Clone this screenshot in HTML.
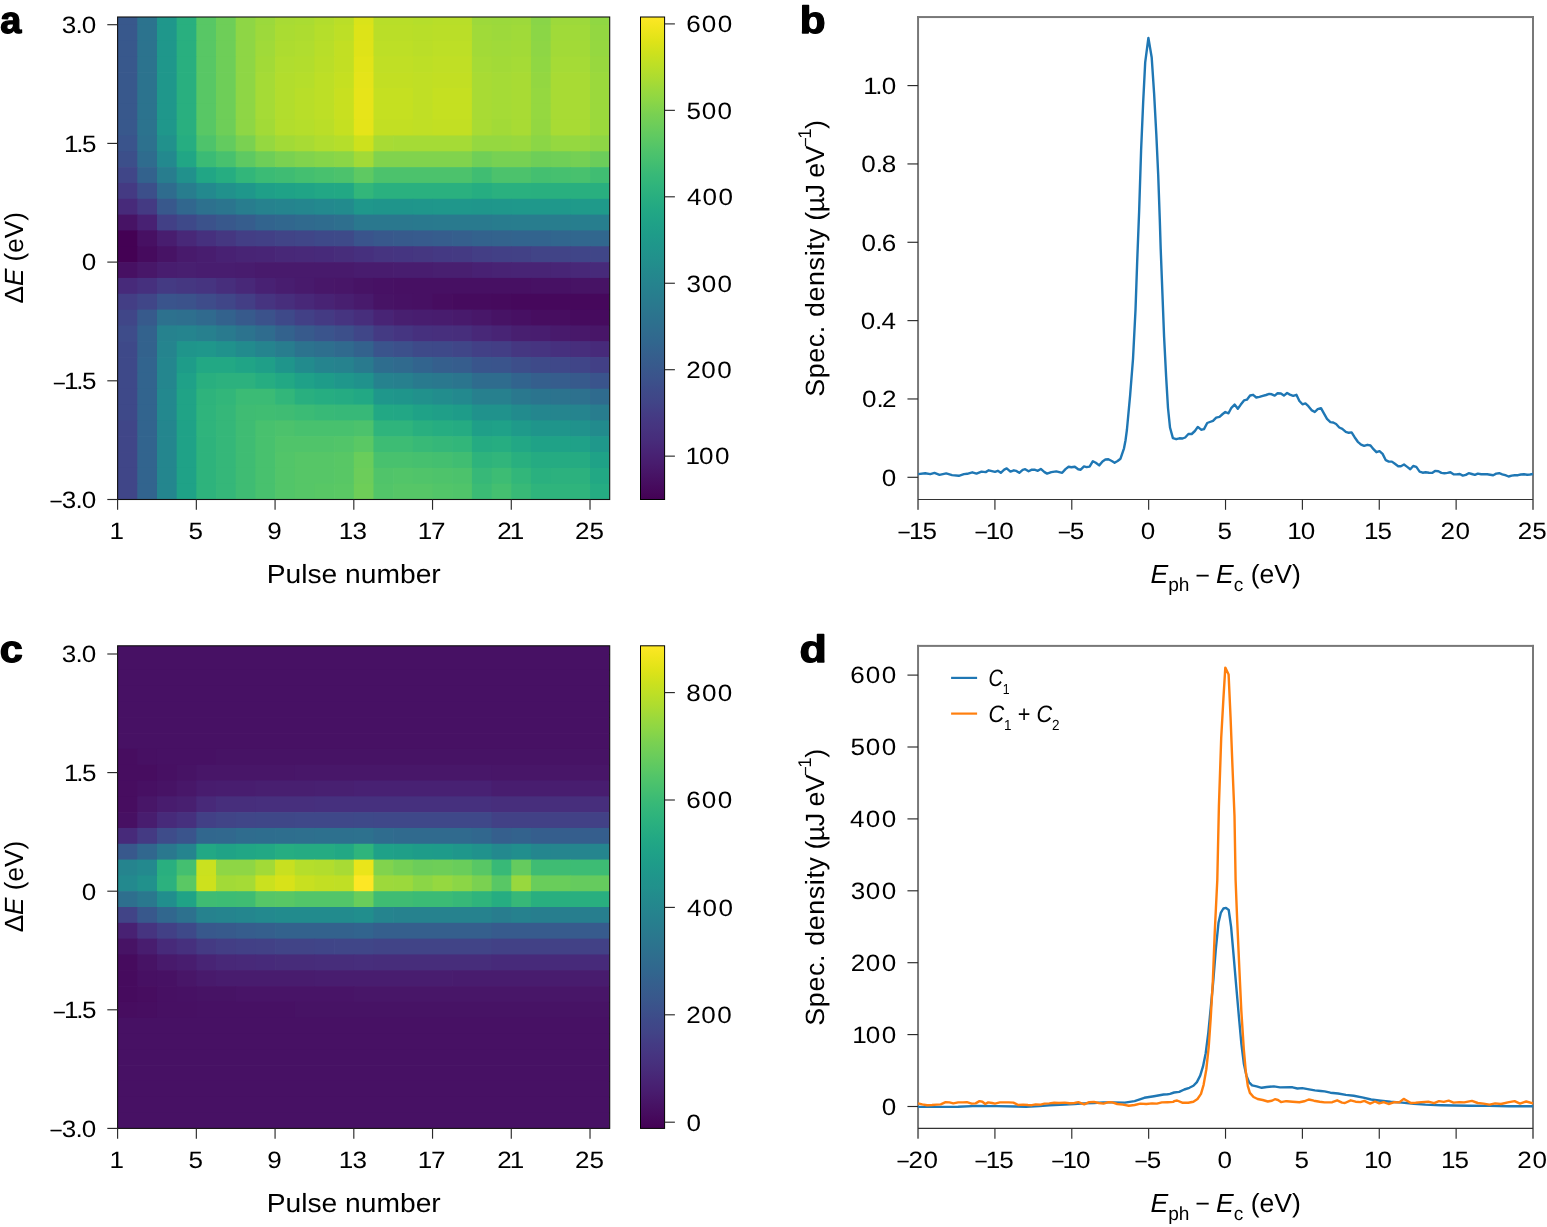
<!DOCTYPE html>
<html lang="en"><head><meta charset="utf-8"><title>Figure</title>
<style>html,body{margin:0;padding:0;background:#fff;overflow:hidden}svg{display:block}text{white-space:pre;font-kerning:none;font-variant-ligatures:none;text-rendering:geometricPrecision}</style>
</head><body>
<svg width="1547" height="1227" viewBox="0 0 1547 1227" font-family='"Liberation Sans", sans-serif' fill="#000">
<rect width="1547" height="1227" fill="#fff"/>
<g>
<rect x="117.60" y="17.00" width="20.38" height="8.40" fill="#38588c"/>
<rect x="137.28" y="17.00" width="20.38" height="8.40" fill="#2c738e"/>
<rect x="156.97" y="17.00" width="20.38" height="8.40" fill="#1f978b"/>
<rect x="176.65" y="17.00" width="20.38" height="8.40" fill="#29af7f"/>
<rect x="196.34" y="17.00" width="20.38" height="8.40" fill="#58c765"/>
<rect x="216.02" y="17.00" width="20.38" height="8.40" fill="#6ece58"/>
<rect x="235.70" y="17.00" width="20.38" height="8.40" fill="#8ed645"/>
<rect x="255.39" y="17.00" width="20.38" height="8.40" fill="#9bd93c"/>
<rect x="275.07" y="17.00" width="20.38" height="8.40" fill="#a8db34"/>
<rect x="294.76" y="17.00" width="20.38" height="8.40" fill="#aadc32"/>
<rect x="314.44" y="17.00" width="20.38" height="8.40" fill="#b2dd2d"/>
<rect x="334.12" y="17.00" width="20.38" height="8.40" fill="#bade28"/>
<rect x="353.81" y="17.00" width="20.38" height="8.40" fill="#dae319"/>
<rect x="373.49" y="17.00" width="40.07" height="8.40" fill="#b8de29"/>
<rect x="412.86" y="17.00" width="20.38" height="8.40" fill="#b5de2b"/>
<rect x="432.54" y="17.00" width="40.07" height="8.40" fill="#b8de29"/>
<rect x="471.91" y="17.00" width="20.38" height="8.40" fill="#9dd93b"/>
<rect x="491.60" y="17.00" width="20.38" height="8.40" fill="#9bd93c"/>
<rect x="511.28" y="17.00" width="20.38" height="8.40" fill="#9dd93b"/>
<rect x="530.96" y="17.00" width="20.38" height="8.40" fill="#89d548"/>
<rect x="550.65" y="17.00" width="40.07" height="8.40" fill="#9dd93b"/>
<rect x="590.02" y="17.00" width="19.68" height="8.40" fill="#90d743"/>
<rect x="117.60" y="24.70" width="20.38" height="16.53" fill="#38588c"/>
<rect x="137.28" y="24.70" width="20.38" height="16.53" fill="#2c738e"/>
<rect x="156.97" y="24.70" width="20.38" height="16.53" fill="#1f978b"/>
<rect x="176.65" y="24.70" width="20.38" height="16.53" fill="#29af7f"/>
<rect x="196.34" y="24.70" width="20.38" height="16.53" fill="#58c765"/>
<rect x="216.02" y="24.70" width="20.38" height="16.53" fill="#6ece58"/>
<rect x="235.70" y="24.70" width="20.38" height="16.53" fill="#8ed645"/>
<rect x="255.39" y="24.70" width="20.38" height="16.53" fill="#9dd93b"/>
<rect x="275.07" y="24.70" width="20.38" height="16.53" fill="#aadc32"/>
<rect x="294.76" y="24.70" width="20.38" height="16.53" fill="#addc30"/>
<rect x="314.44" y="24.70" width="20.38" height="16.53" fill="#b5de2b"/>
<rect x="334.12" y="24.70" width="20.38" height="16.53" fill="#bddf26"/>
<rect x="353.81" y="24.70" width="20.38" height="16.53" fill="#dde318"/>
<rect x="373.49" y="24.70" width="40.07" height="16.53" fill="#bade28"/>
<rect x="412.86" y="24.70" width="20.38" height="16.53" fill="#b8de29"/>
<rect x="432.54" y="24.70" width="40.07" height="16.53" fill="#bade28"/>
<rect x="471.91" y="24.70" width="20.38" height="16.53" fill="#a0da39"/>
<rect x="491.60" y="24.70" width="20.38" height="16.53" fill="#9dd93b"/>
<rect x="511.28" y="24.70" width="20.38" height="16.53" fill="#a0da39"/>
<rect x="530.96" y="24.70" width="20.38" height="16.53" fill="#8bd646"/>
<rect x="550.65" y="24.70" width="40.07" height="16.53" fill="#a0da39"/>
<rect x="590.02" y="24.70" width="19.68" height="16.53" fill="#93d741"/>
<rect x="117.60" y="40.53" width="20.38" height="16.53" fill="#38588c"/>
<rect x="137.28" y="40.53" width="20.38" height="16.53" fill="#2c738e"/>
<rect x="156.97" y="40.53" width="20.38" height="16.53" fill="#1f978b"/>
<rect x="176.65" y="40.53" width="20.38" height="16.53" fill="#29af7f"/>
<rect x="196.34" y="40.53" width="20.38" height="16.53" fill="#58c765"/>
<rect x="216.02" y="40.53" width="20.38" height="16.53" fill="#6ece58"/>
<rect x="235.70" y="40.53" width="20.38" height="16.53" fill="#8ed645"/>
<rect x="255.39" y="40.53" width="20.38" height="16.53" fill="#a0da39"/>
<rect x="275.07" y="40.53" width="20.38" height="16.53" fill="#addc30"/>
<rect x="294.76" y="40.53" width="20.38" height="16.53" fill="#b0dd2f"/>
<rect x="314.44" y="40.53" width="20.38" height="16.53" fill="#b8de29"/>
<rect x="334.12" y="40.53" width="20.38" height="16.53" fill="#c2df23"/>
<rect x="353.81" y="40.53" width="20.38" height="16.53" fill="#dfe318"/>
<rect x="373.49" y="40.53" width="40.07" height="16.53" fill="#bddf26"/>
<rect x="412.86" y="40.53" width="20.38" height="16.53" fill="#bade28"/>
<rect x="432.54" y="40.53" width="40.07" height="16.53" fill="#bddf26"/>
<rect x="471.91" y="40.53" width="20.38" height="16.53" fill="#a2da37"/>
<rect x="491.60" y="40.53" width="20.38" height="16.53" fill="#a0da39"/>
<rect x="511.28" y="40.53" width="20.38" height="16.53" fill="#a2da37"/>
<rect x="530.96" y="40.53" width="20.38" height="16.53" fill="#8ed645"/>
<rect x="550.65" y="40.53" width="40.07" height="16.53" fill="#a2da37"/>
<rect x="590.02" y="40.53" width="19.68" height="16.53" fill="#95d840"/>
<rect x="117.60" y="56.35" width="20.38" height="16.53" fill="#38588c"/>
<rect x="137.28" y="56.35" width="20.38" height="16.53" fill="#2c738e"/>
<rect x="156.97" y="56.35" width="20.38" height="16.53" fill="#1f978b"/>
<rect x="176.65" y="56.35" width="20.38" height="16.53" fill="#29af7f"/>
<rect x="196.34" y="56.35" width="20.38" height="16.53" fill="#58c765"/>
<rect x="216.02" y="56.35" width="20.38" height="16.53" fill="#6ece58"/>
<rect x="235.70" y="56.35" width="20.38" height="16.53" fill="#8ed645"/>
<rect x="255.39" y="56.35" width="20.38" height="16.53" fill="#a2da37"/>
<rect x="275.07" y="56.35" width="20.38" height="16.53" fill="#b0dd2f"/>
<rect x="294.76" y="56.35" width="20.38" height="16.53" fill="#b2dd2d"/>
<rect x="314.44" y="56.35" width="20.38" height="16.53" fill="#bade28"/>
<rect x="334.12" y="56.35" width="20.38" height="16.53" fill="#c2df23"/>
<rect x="353.81" y="56.35" width="20.38" height="16.53" fill="#e2e418"/>
<rect x="373.49" y="56.35" width="40.07" height="16.53" fill="#c0df25"/>
<rect x="412.86" y="56.35" width="20.38" height="16.53" fill="#bddf26"/>
<rect x="432.54" y="56.35" width="40.07" height="16.53" fill="#c0df25"/>
<rect x="471.91" y="56.35" width="20.38" height="16.53" fill="#a5db36"/>
<rect x="491.60" y="56.35" width="20.38" height="16.53" fill="#a2da37"/>
<rect x="511.28" y="56.35" width="20.38" height="16.53" fill="#a5db36"/>
<rect x="530.96" y="56.35" width="20.38" height="16.53" fill="#90d743"/>
<rect x="550.65" y="56.35" width="40.07" height="16.53" fill="#a5db36"/>
<rect x="590.02" y="56.35" width="19.68" height="16.53" fill="#98d83e"/>
<rect x="117.60" y="72.18" width="20.38" height="16.53" fill="#38588c"/>
<rect x="137.28" y="72.18" width="20.38" height="16.53" fill="#2c738e"/>
<rect x="156.97" y="72.18" width="20.38" height="16.53" fill="#1f978b"/>
<rect x="176.65" y="72.18" width="20.38" height="16.53" fill="#29af7f"/>
<rect x="196.34" y="72.18" width="20.38" height="16.53" fill="#58c765"/>
<rect x="216.02" y="72.18" width="20.38" height="16.53" fill="#6ece58"/>
<rect x="235.70" y="72.18" width="20.38" height="16.53" fill="#8ed645"/>
<rect x="255.39" y="72.18" width="20.38" height="16.53" fill="#a5db36"/>
<rect x="275.07" y="72.18" width="20.38" height="16.53" fill="#b2dd2d"/>
<rect x="294.76" y="72.18" width="20.38" height="16.53" fill="#b5de2b"/>
<rect x="314.44" y="72.18" width="20.38" height="16.53" fill="#bddf26"/>
<rect x="334.12" y="72.18" width="20.38" height="16.53" fill="#c5e021"/>
<rect x="353.81" y="72.18" width="20.38" height="16.53" fill="#e5e419"/>
<rect x="373.49" y="72.18" width="40.07" height="16.53" fill="#c2df23"/>
<rect x="412.86" y="72.18" width="20.38" height="16.53" fill="#c0df25"/>
<rect x="432.54" y="72.18" width="40.07" height="16.53" fill="#c2df23"/>
<rect x="471.91" y="72.18" width="20.38" height="16.53" fill="#a8db34"/>
<rect x="491.60" y="72.18" width="20.38" height="16.53" fill="#a5db36"/>
<rect x="511.28" y="72.18" width="20.38" height="16.53" fill="#a8db34"/>
<rect x="530.96" y="72.18" width="20.38" height="16.53" fill="#93d741"/>
<rect x="550.65" y="72.18" width="40.07" height="16.53" fill="#a8db34"/>
<rect x="590.02" y="72.18" width="19.68" height="16.53" fill="#9bd93c"/>
<rect x="117.60" y="88.01" width="20.38" height="16.53" fill="#38588c"/>
<rect x="137.28" y="88.01" width="20.38" height="16.53" fill="#2c738e"/>
<rect x="156.97" y="88.01" width="20.38" height="16.53" fill="#1f978b"/>
<rect x="176.65" y="88.01" width="20.38" height="16.53" fill="#29af7f"/>
<rect x="196.34" y="88.01" width="20.38" height="16.53" fill="#58c765"/>
<rect x="216.02" y="88.01" width="20.38" height="16.53" fill="#6ece58"/>
<rect x="235.70" y="88.01" width="20.38" height="16.53" fill="#8ed645"/>
<rect x="255.39" y="88.01" width="20.38" height="16.53" fill="#a5db36"/>
<rect x="275.07" y="88.01" width="20.38" height="16.53" fill="#b2dd2d"/>
<rect x="294.76" y="88.01" width="20.38" height="16.53" fill="#b8de29"/>
<rect x="314.44" y="88.01" width="20.38" height="16.53" fill="#bddf26"/>
<rect x="334.12" y="88.01" width="20.38" height="16.53" fill="#c8e020"/>
<rect x="353.81" y="88.01" width="20.38" height="16.53" fill="#e7e419"/>
<rect x="373.49" y="88.01" width="40.07" height="16.53" fill="#c5e021"/>
<rect x="412.86" y="88.01" width="20.38" height="16.53" fill="#c0df25"/>
<rect x="432.54" y="88.01" width="40.07" height="16.53" fill="#c5e021"/>
<rect x="471.91" y="88.01" width="20.38" height="16.53" fill="#a8db34"/>
<rect x="491.60" y="88.01" width="20.38" height="16.53" fill="#a5db36"/>
<rect x="511.28" y="88.01" width="20.38" height="16.53" fill="#a8db34"/>
<rect x="530.96" y="88.01" width="20.38" height="16.53" fill="#95d840"/>
<rect x="550.65" y="88.01" width="40.07" height="16.53" fill="#a8db34"/>
<rect x="590.02" y="88.01" width="19.68" height="16.53" fill="#9bd93c"/>
<rect x="117.60" y="103.83" width="20.38" height="16.53" fill="#38588c"/>
<rect x="137.28" y="103.83" width="20.38" height="16.53" fill="#2c738e"/>
<rect x="156.97" y="103.83" width="20.38" height="16.53" fill="#1f978b"/>
<rect x="176.65" y="103.83" width="20.38" height="16.53" fill="#29af7f"/>
<rect x="196.34" y="103.83" width="20.38" height="16.53" fill="#58c765"/>
<rect x="216.02" y="103.83" width="20.38" height="16.53" fill="#6ece58"/>
<rect x="235.70" y="103.83" width="20.38" height="16.53" fill="#8ed645"/>
<rect x="255.39" y="103.83" width="20.38" height="16.53" fill="#a5db36"/>
<rect x="275.07" y="103.83" width="20.38" height="16.53" fill="#b2dd2d"/>
<rect x="294.76" y="103.83" width="20.38" height="16.53" fill="#b8de29"/>
<rect x="314.44" y="103.83" width="20.38" height="16.53" fill="#bddf26"/>
<rect x="334.12" y="103.83" width="20.38" height="16.53" fill="#c8e020"/>
<rect x="353.81" y="103.83" width="20.38" height="16.53" fill="#e7e419"/>
<rect x="373.49" y="103.83" width="40.07" height="16.53" fill="#c5e021"/>
<rect x="412.86" y="103.83" width="20.38" height="16.53" fill="#c0df25"/>
<rect x="432.54" y="103.83" width="40.07" height="16.53" fill="#c5e021"/>
<rect x="471.91" y="103.83" width="20.38" height="16.53" fill="#a8db34"/>
<rect x="491.60" y="103.83" width="20.38" height="16.53" fill="#a5db36"/>
<rect x="511.28" y="103.83" width="20.38" height="16.53" fill="#a8db34"/>
<rect x="530.96" y="103.83" width="20.38" height="16.53" fill="#95d840"/>
<rect x="550.65" y="103.83" width="40.07" height="16.53" fill="#a8db34"/>
<rect x="590.02" y="103.83" width="19.68" height="16.53" fill="#9bd93c"/>
<rect x="117.60" y="119.66" width="20.38" height="16.53" fill="#38588c"/>
<rect x="137.28" y="119.66" width="20.38" height="16.53" fill="#2c738e"/>
<rect x="156.97" y="119.66" width="20.38" height="16.53" fill="#1f978b"/>
<rect x="176.65" y="119.66" width="20.38" height="16.53" fill="#29af7f"/>
<rect x="196.34" y="119.66" width="20.38" height="16.53" fill="#58c765"/>
<rect x="216.02" y="119.66" width="20.38" height="16.53" fill="#6ece58"/>
<rect x="235.70" y="119.66" width="20.38" height="16.53" fill="#8ed645"/>
<rect x="255.39" y="119.66" width="20.38" height="16.53" fill="#a2da37"/>
<rect x="275.07" y="119.66" width="20.38" height="16.53" fill="#b2dd2d"/>
<rect x="294.76" y="119.66" width="20.38" height="16.53" fill="#b5de2b"/>
<rect x="314.44" y="119.66" width="20.38" height="16.53" fill="#bade28"/>
<rect x="334.12" y="119.66" width="20.38" height="16.53" fill="#c5e021"/>
<rect x="353.81" y="119.66" width="20.38" height="16.53" fill="#e5e419"/>
<rect x="373.49" y="119.66" width="40.07" height="16.53" fill="#c2df23"/>
<rect x="412.86" y="119.66" width="20.38" height="16.53" fill="#c0df25"/>
<rect x="432.54" y="119.66" width="40.07" height="16.53" fill="#c2df23"/>
<rect x="471.91" y="119.66" width="20.38" height="16.53" fill="#a8db34"/>
<rect x="491.60" y="119.66" width="20.38" height="16.53" fill="#a2da37"/>
<rect x="511.28" y="119.66" width="20.38" height="16.53" fill="#a8db34"/>
<rect x="530.96" y="119.66" width="20.38" height="16.53" fill="#93d741"/>
<rect x="550.65" y="119.66" width="40.07" height="16.53" fill="#a8db34"/>
<rect x="590.02" y="119.66" width="19.68" height="16.53" fill="#9bd93c"/>
<rect x="117.60" y="135.49" width="20.38" height="16.53" fill="#3a548c"/>
<rect x="137.28" y="135.49" width="20.38" height="16.53" fill="#2d718e"/>
<rect x="156.97" y="135.49" width="20.38" height="16.53" fill="#21918c"/>
<rect x="176.65" y="135.49" width="20.38" height="16.53" fill="#26ad81"/>
<rect x="196.34" y="135.49" width="20.38" height="16.53" fill="#4ec36b"/>
<rect x="216.02" y="135.49" width="20.38" height="16.53" fill="#63cb5f"/>
<rect x="235.70" y="135.49" width="20.38" height="16.53" fill="#7ad151"/>
<rect x="255.39" y="135.49" width="20.38" height="16.53" fill="#95d840"/>
<rect x="275.07" y="135.49" width="20.38" height="16.53" fill="#a2da37"/>
<rect x="294.76" y="135.49" width="20.38" height="16.53" fill="#a8db34"/>
<rect x="314.44" y="135.49" width="20.38" height="16.53" fill="#b0dd2f"/>
<rect x="334.12" y="135.49" width="20.38" height="16.53" fill="#b5de2b"/>
<rect x="353.81" y="135.49" width="20.38" height="16.53" fill="#cde11d"/>
<rect x="373.49" y="135.49" width="20.38" height="16.53" fill="#a8db34"/>
<rect x="393.18" y="135.49" width="79.44" height="16.53" fill="#a5db36"/>
<rect x="471.91" y="135.49" width="40.07" height="16.53" fill="#95d840"/>
<rect x="511.28" y="135.49" width="20.38" height="16.53" fill="#98d83e"/>
<rect x="530.96" y="135.49" width="20.38" height="16.53" fill="#8bd646"/>
<rect x="550.65" y="135.49" width="40.07" height="16.53" fill="#95d840"/>
<rect x="590.02" y="135.49" width="19.68" height="16.53" fill="#8ed645"/>
<rect x="117.60" y="151.31" width="20.38" height="16.53" fill="#3c4f8a"/>
<rect x="137.28" y="151.31" width="20.38" height="16.53" fill="#2f6c8e"/>
<rect x="156.97" y="151.31" width="20.38" height="16.53" fill="#23898e"/>
<rect x="176.65" y="151.31" width="20.38" height="16.53" fill="#21a685"/>
<rect x="196.34" y="151.31" width="20.38" height="16.53" fill="#3bbb75"/>
<rect x="216.02" y="151.31" width="20.38" height="16.53" fill="#48c16e"/>
<rect x="235.70" y="151.31" width="20.38" height="16.53" fill="#5ec962"/>
<rect x="255.39" y="151.31" width="20.38" height="16.53" fill="#6ece58"/>
<rect x="275.07" y="151.31" width="20.38" height="16.53" fill="#7ad151"/>
<rect x="294.76" y="151.31" width="20.38" height="16.53" fill="#81d34d"/>
<rect x="314.44" y="151.31" width="20.38" height="16.53" fill="#86d549"/>
<rect x="334.12" y="151.31" width="20.38" height="16.53" fill="#8bd646"/>
<rect x="353.81" y="151.31" width="20.38" height="16.53" fill="#a2da37"/>
<rect x="373.49" y="151.31" width="99.12" height="16.53" fill="#81d34d"/>
<rect x="471.91" y="151.31" width="20.38" height="16.53" fill="#70cf57"/>
<rect x="491.60" y="151.31" width="40.07" height="16.53" fill="#77d153"/>
<rect x="530.96" y="151.31" width="20.38" height="16.53" fill="#6ece58"/>
<rect x="550.65" y="151.31" width="20.38" height="16.53" fill="#70cf57"/>
<rect x="570.33" y="151.31" width="20.38" height="16.53" fill="#75d054"/>
<rect x="590.02" y="151.31" width="19.68" height="16.53" fill="#6ccd5a"/>
<rect x="117.60" y="167.14" width="20.38" height="16.53" fill="#404688"/>
<rect x="137.28" y="167.14" width="20.38" height="16.53" fill="#33628d"/>
<rect x="156.97" y="167.14" width="20.38" height="16.53" fill="#287d8e"/>
<rect x="176.65" y="167.14" width="20.38" height="16.53" fill="#21918c"/>
<rect x="196.34" y="167.14" width="20.38" height="16.53" fill="#21a685"/>
<rect x="216.02" y="167.14" width="20.38" height="16.53" fill="#26ad81"/>
<rect x="235.70" y="167.14" width="20.38" height="16.53" fill="#32b67a"/>
<rect x="255.39" y="167.14" width="20.38" height="16.53" fill="#3bbb75"/>
<rect x="275.07" y="167.14" width="20.38" height="16.53" fill="#3fbc73"/>
<rect x="294.76" y="167.14" width="20.38" height="16.53" fill="#44bf70"/>
<rect x="314.44" y="167.14" width="20.38" height="16.53" fill="#48c16e"/>
<rect x="334.12" y="167.14" width="20.38" height="16.53" fill="#4cc26c"/>
<rect x="353.81" y="167.14" width="20.38" height="16.53" fill="#5ec962"/>
<rect x="373.49" y="167.14" width="99.12" height="16.53" fill="#4cc26c"/>
<rect x="471.91" y="167.14" width="20.38" height="16.53" fill="#40bd72"/>
<rect x="491.60" y="167.14" width="40.07" height="16.53" fill="#4cc26c"/>
<rect x="530.96" y="167.14" width="20.38" height="16.53" fill="#44bf70"/>
<rect x="550.65" y="167.14" width="20.38" height="16.53" fill="#46c06f"/>
<rect x="570.33" y="167.14" width="20.38" height="16.53" fill="#48c16e"/>
<rect x="590.02" y="167.14" width="19.68" height="16.53" fill="#40bd72"/>
<rect x="117.60" y="182.97" width="20.38" height="16.53" fill="#443a83"/>
<rect x="137.28" y="182.97" width="20.38" height="16.53" fill="#3c4f8a"/>
<rect x="156.97" y="182.97" width="20.38" height="16.53" fill="#2f6c8e"/>
<rect x="176.65" y="182.97" width="20.38" height="16.53" fill="#287d8e"/>
<rect x="196.34" y="182.97" width="20.38" height="16.53" fill="#23898e"/>
<rect x="216.02" y="182.97" width="20.38" height="16.53" fill="#21918c"/>
<rect x="235.70" y="182.97" width="20.38" height="16.53" fill="#1f978b"/>
<rect x="255.39" y="182.97" width="20.38" height="16.53" fill="#1f9f88"/>
<rect x="275.07" y="182.97" width="20.38" height="16.53" fill="#1fa287"/>
<rect x="294.76" y="182.97" width="20.38" height="16.53" fill="#20a486"/>
<rect x="314.44" y="182.97" width="20.38" height="16.53" fill="#22a785"/>
<rect x="334.12" y="182.97" width="20.38" height="16.53" fill="#22a884"/>
<rect x="353.81" y="182.97" width="20.38" height="16.53" fill="#32b67a"/>
<rect x="373.49" y="182.97" width="99.12" height="16.53" fill="#2ab07f"/>
<rect x="471.91" y="182.97" width="20.38" height="16.53" fill="#26ad81"/>
<rect x="491.60" y="182.97" width="40.07" height="16.53" fill="#2ab07f"/>
<rect x="530.96" y="182.97" width="78.74" height="16.53" fill="#29af7f"/>
<rect x="117.60" y="198.79" width="20.38" height="16.53" fill="#472a7a"/>
<rect x="137.28" y="198.79" width="20.38" height="16.53" fill="#443a83"/>
<rect x="156.97" y="198.79" width="20.38" height="16.53" fill="#38588c"/>
<rect x="176.65" y="198.79" width="20.38" height="16.53" fill="#31678e"/>
<rect x="196.34" y="198.79" width="20.38" height="16.53" fill="#2d718e"/>
<rect x="216.02" y="198.79" width="20.38" height="16.53" fill="#2b758e"/>
<rect x="235.70" y="198.79" width="20.38" height="16.53" fill="#287d8e"/>
<rect x="255.39" y="198.79" width="20.38" height="16.53" fill="#26828e"/>
<rect x="275.07" y="198.79" width="20.38" height="16.53" fill="#25848e"/>
<rect x="294.76" y="198.79" width="20.38" height="16.53" fill="#24868e"/>
<rect x="314.44" y="198.79" width="20.38" height="16.53" fill="#23898e"/>
<rect x="334.12" y="198.79" width="20.38" height="16.53" fill="#228b8d"/>
<rect x="353.81" y="198.79" width="20.38" height="16.53" fill="#1f978b"/>
<rect x="373.49" y="198.79" width="40.07" height="16.53" fill="#1f958b"/>
<rect x="412.86" y="198.79" width="20.38" height="16.53" fill="#1f968b"/>
<rect x="432.54" y="198.79" width="40.07" height="16.53" fill="#1f978b"/>
<rect x="471.91" y="198.79" width="20.38" height="16.53" fill="#1f968b"/>
<rect x="491.60" y="198.79" width="20.38" height="16.53" fill="#1f978b"/>
<rect x="511.28" y="198.79" width="59.75" height="16.53" fill="#1f988b"/>
<rect x="570.33" y="198.79" width="39.37" height="16.53" fill="#1f9a8a"/>
<rect x="117.60" y="214.62" width="20.38" height="16.53" fill="#471365"/>
<rect x="137.28" y="214.62" width="20.38" height="16.53" fill="#482173"/>
<rect x="156.97" y="214.62" width="20.38" height="16.53" fill="#424086"/>
<rect x="176.65" y="214.62" width="20.38" height="16.53" fill="#3e4989"/>
<rect x="196.34" y="214.62" width="20.38" height="16.53" fill="#3b528b"/>
<rect x="216.02" y="214.62" width="20.38" height="16.53" fill="#38588c"/>
<rect x="235.70" y="214.62" width="20.38" height="16.53" fill="#365d8d"/>
<rect x="255.39" y="214.62" width="20.38" height="16.53" fill="#32648e"/>
<rect x="275.07" y="214.62" width="20.38" height="16.53" fill="#31678e"/>
<rect x="294.76" y="214.62" width="20.38" height="16.53" fill="#306a8e"/>
<rect x="314.44" y="214.62" width="20.38" height="16.53" fill="#2f6c8e"/>
<rect x="334.12" y="214.62" width="20.38" height="16.53" fill="#2e6f8e"/>
<rect x="353.81" y="214.62" width="59.75" height="16.53" fill="#2a788e"/>
<rect x="412.86" y="214.62" width="20.38" height="16.53" fill="#29798e"/>
<rect x="432.54" y="214.62" width="59.75" height="16.53" fill="#297a8e"/>
<rect x="491.60" y="214.62" width="20.38" height="16.53" fill="#287c8e"/>
<rect x="511.28" y="214.62" width="59.75" height="16.53" fill="#287d8e"/>
<rect x="570.33" y="214.62" width="39.37" height="16.53" fill="#277e8e"/>
<rect x="117.60" y="230.45" width="20.38" height="16.53" fill="#440154"/>
<rect x="137.28" y="230.45" width="20.38" height="16.53" fill="#471063"/>
<rect x="156.97" y="230.45" width="20.38" height="16.53" fill="#481d6f"/>
<rect x="176.65" y="230.45" width="20.38" height="16.53" fill="#482878"/>
<rect x="196.34" y="230.45" width="20.38" height="16.53" fill="#46307e"/>
<rect x="216.02" y="230.45" width="20.38" height="16.53" fill="#453781"/>
<rect x="235.70" y="230.45" width="20.38" height="16.53" fill="#433e85"/>
<rect x="255.39" y="230.45" width="20.38" height="16.53" fill="#424086"/>
<rect x="275.07" y="230.45" width="20.38" height="16.53" fill="#414487"/>
<rect x="294.76" y="230.45" width="20.38" height="16.53" fill="#404688"/>
<rect x="314.44" y="230.45" width="20.38" height="16.53" fill="#3e4989"/>
<rect x="334.12" y="230.45" width="20.38" height="16.53" fill="#3e4a89"/>
<rect x="353.81" y="230.45" width="20.38" height="16.53" fill="#3a548c"/>
<rect x="373.49" y="230.45" width="20.38" height="16.53" fill="#38588c"/>
<rect x="393.18" y="230.45" width="20.38" height="16.53" fill="#375a8c"/>
<rect x="412.86" y="230.45" width="20.38" height="16.53" fill="#375b8d"/>
<rect x="432.54" y="230.45" width="20.38" height="16.53" fill="#365d8d"/>
<rect x="452.23" y="230.45" width="20.38" height="16.53" fill="#355f8d"/>
<rect x="471.91" y="230.45" width="20.38" height="16.53" fill="#33628d"/>
<rect x="491.60" y="230.45" width="20.38" height="16.53" fill="#33638d"/>
<rect x="511.28" y="230.45" width="40.07" height="16.53" fill="#32648e"/>
<rect x="550.65" y="230.45" width="20.38" height="16.53" fill="#31668e"/>
<rect x="570.33" y="230.45" width="39.37" height="16.53" fill="#31678e"/>
<rect x="117.60" y="246.27" width="20.38" height="16.53" fill="#440154"/>
<rect x="137.28" y="246.27" width="20.38" height="16.53" fill="#460b5e"/>
<rect x="156.97" y="246.27" width="20.38" height="16.53" fill="#471365"/>
<rect x="176.65" y="246.27" width="20.38" height="16.53" fill="#481a6c"/>
<rect x="196.34" y="246.27" width="20.38" height="16.53" fill="#481d6f"/>
<rect x="216.02" y="246.27" width="20.38" height="16.53" fill="#482173"/>
<rect x="235.70" y="246.27" width="20.38" height="16.53" fill="#482475"/>
<rect x="255.39" y="246.27" width="20.38" height="16.53" fill="#482576"/>
<rect x="275.07" y="246.27" width="20.38" height="16.53" fill="#482878"/>
<rect x="294.76" y="246.27" width="20.38" height="16.53" fill="#482979"/>
<rect x="314.44" y="246.27" width="20.38" height="16.53" fill="#472a7a"/>
<rect x="334.12" y="246.27" width="20.38" height="16.53" fill="#472d7b"/>
<rect x="353.81" y="246.27" width="20.38" height="16.53" fill="#46307e"/>
<rect x="373.49" y="246.27" width="20.38" height="16.53" fill="#463480"/>
<rect x="393.18" y="246.27" width="20.38" height="16.53" fill="#453581"/>
<rect x="412.86" y="246.27" width="20.38" height="16.53" fill="#453781"/>
<rect x="432.54" y="246.27" width="20.38" height="16.53" fill="#443983"/>
<rect x="452.23" y="246.27" width="20.38" height="16.53" fill="#443a83"/>
<rect x="471.91" y="246.27" width="20.38" height="16.53" fill="#433e85"/>
<rect x="491.60" y="246.27" width="20.38" height="16.53" fill="#424086"/>
<rect x="511.28" y="246.27" width="20.38" height="16.53" fill="#424186"/>
<rect x="530.96" y="246.27" width="40.07" height="16.53" fill="#414487"/>
<rect x="570.33" y="246.27" width="20.38" height="16.53" fill="#404588"/>
<rect x="590.02" y="246.27" width="19.68" height="16.53" fill="#404688"/>
<rect x="117.60" y="262.10" width="20.38" height="16.53" fill="#471063"/>
<rect x="137.28" y="262.10" width="20.38" height="16.53" fill="#481769"/>
<rect x="156.97" y="262.10" width="20.38" height="16.53" fill="#481d6f"/>
<rect x="176.65" y="262.10" width="20.38" height="16.53" fill="#481f70"/>
<rect x="196.34" y="262.10" width="40.07" height="16.53" fill="#481d6f"/>
<rect x="235.70" y="262.10" width="20.38" height="16.53" fill="#481c6e"/>
<rect x="255.39" y="262.10" width="99.12" height="16.53" fill="#481a6c"/>
<rect x="353.81" y="262.10" width="40.07" height="16.53" fill="#481c6e"/>
<rect x="393.18" y="262.10" width="40.07" height="16.53" fill="#481d6f"/>
<rect x="432.54" y="262.10" width="40.07" height="16.53" fill="#481f70"/>
<rect x="471.91" y="262.10" width="20.38" height="16.53" fill="#482173"/>
<rect x="491.60" y="262.10" width="20.38" height="16.53" fill="#482374"/>
<rect x="511.28" y="262.10" width="40.07" height="16.53" fill="#482475"/>
<rect x="550.65" y="262.10" width="20.38" height="16.53" fill="#482576"/>
<rect x="570.33" y="262.10" width="20.38" height="16.53" fill="#482878"/>
<rect x="590.02" y="262.10" width="19.68" height="16.53" fill="#472a7a"/>
<rect x="117.60" y="277.93" width="20.38" height="16.53" fill="#472a7a"/>
<rect x="137.28" y="277.93" width="20.38" height="16.53" fill="#46307e"/>
<rect x="156.97" y="277.93" width="20.38" height="16.53" fill="#443a83"/>
<rect x="176.65" y="277.93" width="20.38" height="16.53" fill="#453781"/>
<rect x="196.34" y="277.93" width="20.38" height="16.53" fill="#463480"/>
<rect x="216.02" y="277.93" width="20.38" height="16.53" fill="#472e7c"/>
<rect x="235.70" y="277.93" width="20.38" height="16.53" fill="#482878"/>
<rect x="255.39" y="277.93" width="20.38" height="16.53" fill="#482173"/>
<rect x="275.07" y="277.93" width="20.38" height="16.53" fill="#481d6f"/>
<rect x="294.76" y="277.93" width="20.38" height="16.53" fill="#481a6c"/>
<rect x="314.44" y="277.93" width="20.38" height="16.53" fill="#481769"/>
<rect x="334.12" y="277.93" width="20.38" height="16.53" fill="#481668"/>
<rect x="353.81" y="277.93" width="20.38" height="16.53" fill="#471365"/>
<rect x="373.49" y="277.93" width="20.38" height="16.53" fill="#471164"/>
<rect x="393.18" y="277.93" width="138.49" height="16.53" fill="#471063"/>
<rect x="530.96" y="277.93" width="40.07" height="16.53" fill="#471164"/>
<rect x="570.33" y="277.93" width="39.37" height="16.53" fill="#471365"/>
<rect x="117.60" y="293.75" width="20.38" height="16.53" fill="#433e85"/>
<rect x="137.28" y="293.75" width="20.38" height="16.53" fill="#404688"/>
<rect x="156.97" y="293.75" width="20.38" height="16.53" fill="#3a548c"/>
<rect x="176.65" y="293.75" width="20.38" height="16.53" fill="#3b528b"/>
<rect x="196.34" y="293.75" width="20.38" height="16.53" fill="#3e4c8a"/>
<rect x="216.02" y="293.75" width="20.38" height="16.53" fill="#404688"/>
<rect x="235.70" y="293.75" width="20.38" height="16.53" fill="#433e85"/>
<rect x="255.39" y="293.75" width="20.38" height="16.53" fill="#463480"/>
<rect x="275.07" y="293.75" width="20.38" height="16.53" fill="#472e7c"/>
<rect x="294.76" y="293.75" width="20.38" height="16.53" fill="#482878"/>
<rect x="314.44" y="293.75" width="20.38" height="16.53" fill="#482374"/>
<rect x="334.12" y="293.75" width="20.38" height="16.53" fill="#481f70"/>
<rect x="353.81" y="293.75" width="20.38" height="16.53" fill="#481a6c"/>
<rect x="373.49" y="293.75" width="20.38" height="16.53" fill="#471365"/>
<rect x="393.18" y="293.75" width="20.38" height="16.53" fill="#471164"/>
<rect x="412.86" y="293.75" width="20.38" height="16.53" fill="#471063"/>
<rect x="432.54" y="293.75" width="20.38" height="16.53" fill="#470d60"/>
<rect x="452.23" y="293.75" width="40.07" height="16.53" fill="#460b5e"/>
<rect x="491.60" y="293.75" width="20.38" height="16.53" fill="#460a5d"/>
<rect x="511.28" y="293.75" width="98.42" height="16.53" fill="#46085c"/>
<rect x="117.60" y="309.58" width="20.38" height="16.53" fill="#404688"/>
<rect x="137.28" y="309.58" width="20.38" height="16.53" fill="#375a8c"/>
<rect x="156.97" y="309.58" width="20.38" height="16.53" fill="#2d718e"/>
<rect x="176.65" y="309.58" width="20.38" height="16.53" fill="#2e6f8e"/>
<rect x="196.34" y="309.58" width="20.38" height="16.53" fill="#306a8e"/>
<rect x="216.02" y="309.58" width="20.38" height="16.53" fill="#33628d"/>
<rect x="235.70" y="309.58" width="20.38" height="16.53" fill="#375a8c"/>
<rect x="255.39" y="309.58" width="20.38" height="16.53" fill="#3b528b"/>
<rect x="275.07" y="309.58" width="20.38" height="16.53" fill="#3e4989"/>
<rect x="294.76" y="309.58" width="20.38" height="16.53" fill="#424086"/>
<rect x="314.44" y="309.58" width="20.38" height="16.53" fill="#443a83"/>
<rect x="334.12" y="309.58" width="20.38" height="16.53" fill="#463480"/>
<rect x="353.81" y="309.58" width="20.38" height="16.53" fill="#472e7c"/>
<rect x="373.49" y="309.58" width="20.38" height="16.53" fill="#482475"/>
<rect x="393.18" y="309.58" width="20.38" height="16.53" fill="#481f70"/>
<rect x="412.86" y="309.58" width="20.38" height="16.53" fill="#481d6f"/>
<rect x="432.54" y="309.58" width="20.38" height="16.53" fill="#481c6e"/>
<rect x="452.23" y="309.58" width="20.38" height="16.53" fill="#481a6c"/>
<rect x="471.91" y="309.58" width="20.38" height="16.53" fill="#481769"/>
<rect x="491.60" y="309.58" width="20.38" height="16.53" fill="#471365"/>
<rect x="511.28" y="309.58" width="20.38" height="16.53" fill="#471063"/>
<rect x="530.96" y="309.58" width="40.07" height="16.53" fill="#470d60"/>
<rect x="570.33" y="309.58" width="39.37" height="16.53" fill="#460b5e"/>
<rect x="117.60" y="325.41" width="20.38" height="16.53" fill="#3e4c8a"/>
<rect x="137.28" y="325.41" width="20.38" height="16.53" fill="#33628d"/>
<rect x="156.97" y="325.41" width="20.38" height="16.53" fill="#26828e"/>
<rect x="176.65" y="325.41" width="20.38" height="16.53" fill="#25848e"/>
<rect x="196.34" y="325.41" width="20.38" height="16.53" fill="#27808e"/>
<rect x="216.02" y="325.41" width="20.38" height="16.53" fill="#297a8e"/>
<rect x="235.70" y="325.41" width="20.38" height="16.53" fill="#2c738e"/>
<rect x="255.39" y="325.41" width="20.38" height="16.53" fill="#2f6c8e"/>
<rect x="275.07" y="325.41" width="20.38" height="16.53" fill="#33628d"/>
<rect x="294.76" y="325.41" width="20.38" height="16.53" fill="#375a8c"/>
<rect x="314.44" y="325.41" width="20.38" height="16.53" fill="#3a548c"/>
<rect x="334.12" y="325.41" width="20.38" height="16.53" fill="#3c4f8a"/>
<rect x="353.81" y="325.41" width="20.38" height="16.53" fill="#404688"/>
<rect x="373.49" y="325.41" width="20.38" height="16.53" fill="#443a83"/>
<rect x="393.18" y="325.41" width="20.38" height="16.53" fill="#453581"/>
<rect x="412.86" y="325.41" width="20.38" height="16.53" fill="#46307e"/>
<rect x="432.54" y="325.41" width="20.38" height="16.53" fill="#472f7d"/>
<rect x="452.23" y="325.41" width="20.38" height="16.53" fill="#472e7c"/>
<rect x="471.91" y="325.41" width="20.38" height="16.53" fill="#482878"/>
<rect x="491.60" y="325.41" width="20.38" height="16.53" fill="#482475"/>
<rect x="511.28" y="325.41" width="20.38" height="16.53" fill="#481f70"/>
<rect x="530.96" y="325.41" width="20.38" height="16.53" fill="#481d6f"/>
<rect x="550.65" y="325.41" width="20.38" height="16.53" fill="#481a6c"/>
<rect x="570.33" y="325.41" width="20.38" height="16.53" fill="#48186a"/>
<rect x="590.02" y="325.41" width="19.68" height="16.53" fill="#481668"/>
<rect x="117.60" y="341.23" width="20.38" height="16.53" fill="#3e4989"/>
<rect x="137.28" y="341.23" width="20.38" height="16.53" fill="#33628d"/>
<rect x="156.97" y="341.23" width="20.38" height="16.53" fill="#25848e"/>
<rect x="176.65" y="341.23" width="20.38" height="16.53" fill="#1f958b"/>
<rect x="196.34" y="341.23" width="20.38" height="16.53" fill="#1f978b"/>
<rect x="216.02" y="341.23" width="20.38" height="16.53" fill="#20928c"/>
<rect x="235.70" y="341.23" width="20.38" height="16.53" fill="#228b8d"/>
<rect x="255.39" y="341.23" width="20.38" height="16.53" fill="#25848e"/>
<rect x="275.07" y="341.23" width="20.38" height="16.53" fill="#287d8e"/>
<rect x="294.76" y="341.23" width="20.38" height="16.53" fill="#2c738e"/>
<rect x="314.44" y="341.23" width="20.38" height="16.53" fill="#2e6f8e"/>
<rect x="334.12" y="341.23" width="20.38" height="16.53" fill="#306a8e"/>
<rect x="353.81" y="341.23" width="20.38" height="16.53" fill="#33628d"/>
<rect x="373.49" y="341.23" width="20.38" height="16.53" fill="#3a548c"/>
<rect x="393.18" y="341.23" width="20.38" height="16.53" fill="#3c508b"/>
<rect x="412.86" y="341.23" width="20.38" height="16.53" fill="#3e4a89"/>
<rect x="432.54" y="341.23" width="20.38" height="16.53" fill="#3e4989"/>
<rect x="452.23" y="341.23" width="20.38" height="16.53" fill="#404688"/>
<rect x="471.91" y="341.23" width="20.38" height="16.53" fill="#424086"/>
<rect x="491.60" y="341.23" width="20.38" height="16.53" fill="#433e85"/>
<rect x="511.28" y="341.23" width="20.38" height="16.53" fill="#453781"/>
<rect x="530.96" y="341.23" width="20.38" height="16.53" fill="#463480"/>
<rect x="550.65" y="341.23" width="20.38" height="16.53" fill="#46307e"/>
<rect x="570.33" y="341.23" width="20.38" height="16.53" fill="#472e7c"/>
<rect x="590.02" y="341.23" width="19.68" height="16.53" fill="#472a7a"/>
<rect x="117.60" y="357.06" width="20.38" height="16.53" fill="#3e4989"/>
<rect x="137.28" y="357.06" width="20.38" height="16.53" fill="#32648e"/>
<rect x="156.97" y="357.06" width="20.38" height="16.53" fill="#24868e"/>
<rect x="176.65" y="357.06" width="20.38" height="16.53" fill="#1e9c89"/>
<rect x="196.34" y="357.06" width="40.07" height="16.53" fill="#22a884"/>
<rect x="235.70" y="357.06" width="20.38" height="16.53" fill="#20a486"/>
<rect x="255.39" y="357.06" width="20.38" height="16.53" fill="#1f9f88"/>
<rect x="275.07" y="357.06" width="20.38" height="16.53" fill="#1f958b"/>
<rect x="294.76" y="357.06" width="20.38" height="16.53" fill="#228b8d"/>
<rect x="314.44" y="357.06" width="20.38" height="16.53" fill="#25848e"/>
<rect x="334.12" y="357.06" width="20.38" height="16.53" fill="#26828e"/>
<rect x="353.81" y="357.06" width="20.38" height="16.53" fill="#297a8e"/>
<rect x="373.49" y="357.06" width="20.38" height="16.53" fill="#2e6d8e"/>
<rect x="393.18" y="357.06" width="20.38" height="16.53" fill="#306a8e"/>
<rect x="412.86" y="357.06" width="20.38" height="16.53" fill="#32648e"/>
<rect x="432.54" y="357.06" width="20.38" height="16.53" fill="#355f8d"/>
<rect x="452.23" y="357.06" width="20.38" height="16.53" fill="#365d8d"/>
<rect x="471.91" y="357.06" width="20.38" height="16.53" fill="#39558c"/>
<rect x="491.60" y="357.06" width="20.38" height="16.53" fill="#3a548c"/>
<rect x="511.28" y="357.06" width="20.38" height="16.53" fill="#3d4e8a"/>
<rect x="530.96" y="357.06" width="20.38" height="16.53" fill="#3e4a89"/>
<rect x="550.65" y="357.06" width="20.38" height="16.53" fill="#3f4889"/>
<rect x="570.33" y="357.06" width="20.38" height="16.53" fill="#404588"/>
<rect x="590.02" y="357.06" width="19.68" height="16.53" fill="#424086"/>
<rect x="117.60" y="372.89" width="20.38" height="16.53" fill="#3e4989"/>
<rect x="137.28" y="372.89" width="20.38" height="16.53" fill="#32648e"/>
<rect x="156.97" y="372.89" width="20.38" height="16.53" fill="#24868e"/>
<rect x="176.65" y="372.89" width="20.38" height="16.53" fill="#1fa188"/>
<rect x="196.34" y="372.89" width="20.38" height="16.53" fill="#29af7f"/>
<rect x="216.02" y="372.89" width="40.07" height="16.53" fill="#2cb17e"/>
<rect x="255.39" y="372.89" width="20.38" height="16.53" fill="#26ad81"/>
<rect x="275.07" y="372.89" width="20.38" height="16.53" fill="#22a884"/>
<rect x="294.76" y="372.89" width="20.38" height="16.53" fill="#1fa188"/>
<rect x="314.44" y="372.89" width="20.38" height="16.53" fill="#1e9c89"/>
<rect x="334.12" y="372.89" width="20.38" height="16.53" fill="#1f978b"/>
<rect x="353.81" y="372.89" width="20.38" height="16.53" fill="#20928c"/>
<rect x="373.49" y="372.89" width="20.38" height="16.53" fill="#26828e"/>
<rect x="393.18" y="372.89" width="20.38" height="16.53" fill="#27808e"/>
<rect x="412.86" y="372.89" width="20.38" height="16.53" fill="#297a8e"/>
<rect x="432.54" y="372.89" width="20.38" height="16.53" fill="#2a788e"/>
<rect x="452.23" y="372.89" width="20.38" height="16.53" fill="#2b758e"/>
<rect x="471.91" y="372.89" width="40.07" height="16.53" fill="#2f6c8e"/>
<rect x="511.28" y="372.89" width="20.38" height="16.53" fill="#32648e"/>
<rect x="530.96" y="372.89" width="20.38" height="16.53" fill="#355f8d"/>
<rect x="550.65" y="372.89" width="20.38" height="16.53" fill="#365d8d"/>
<rect x="570.33" y="372.89" width="20.38" height="16.53" fill="#375a8c"/>
<rect x="590.02" y="372.89" width="19.68" height="16.53" fill="#3a548c"/>
<rect x="117.60" y="388.71" width="20.38" height="16.53" fill="#3e4989"/>
<rect x="137.28" y="388.71" width="20.38" height="16.53" fill="#32648e"/>
<rect x="156.97" y="388.71" width="20.38" height="16.53" fill="#23888e"/>
<rect x="176.65" y="388.71" width="20.38" height="16.53" fill="#20a386"/>
<rect x="196.34" y="388.71" width="20.38" height="16.53" fill="#2eb37c"/>
<rect x="216.02" y="388.71" width="20.38" height="16.53" fill="#32b67a"/>
<rect x="235.70" y="388.71" width="40.07" height="16.53" fill="#3bbb75"/>
<rect x="275.07" y="388.71" width="20.38" height="16.53" fill="#32b67a"/>
<rect x="294.76" y="388.71" width="20.38" height="16.53" fill="#29af7f"/>
<rect x="314.44" y="388.71" width="20.38" height="16.53" fill="#26ad81"/>
<rect x="334.12" y="388.71" width="20.38" height="16.53" fill="#25ab82"/>
<rect x="353.81" y="388.71" width="20.38" height="16.53" fill="#22a884"/>
<rect x="373.49" y="388.71" width="20.38" height="16.53" fill="#1f978b"/>
<rect x="393.18" y="388.71" width="20.38" height="16.53" fill="#1f958b"/>
<rect x="412.86" y="388.71" width="20.38" height="16.53" fill="#21918c"/>
<rect x="432.54" y="388.71" width="20.38" height="16.53" fill="#228d8d"/>
<rect x="452.23" y="388.71" width="20.38" height="16.53" fill="#23898e"/>
<rect x="471.91" y="388.71" width="40.07" height="16.53" fill="#27808e"/>
<rect x="511.28" y="388.71" width="20.38" height="16.53" fill="#2a788e"/>
<rect x="530.96" y="388.71" width="20.38" height="16.53" fill="#2b748e"/>
<rect x="550.65" y="388.71" width="20.38" height="16.53" fill="#2c738e"/>
<rect x="570.33" y="388.71" width="20.38" height="16.53" fill="#2d718e"/>
<rect x="590.02" y="388.71" width="19.68" height="16.53" fill="#2f6b8e"/>
<rect x="117.60" y="404.54" width="20.38" height="16.53" fill="#3e4989"/>
<rect x="137.28" y="404.54" width="20.38" height="16.53" fill="#32648e"/>
<rect x="156.97" y="404.54" width="20.38" height="16.53" fill="#23888e"/>
<rect x="176.65" y="404.54" width="20.38" height="16.53" fill="#20a386"/>
<rect x="196.34" y="404.54" width="20.38" height="16.53" fill="#2fb47c"/>
<rect x="216.02" y="404.54" width="20.38" height="16.53" fill="#35b779"/>
<rect x="235.70" y="404.54" width="20.38" height="16.53" fill="#3fbc73"/>
<rect x="255.39" y="404.54" width="20.38" height="16.53" fill="#40bd72"/>
<rect x="275.07" y="404.54" width="20.38" height="16.53" fill="#3fbc73"/>
<rect x="294.76" y="404.54" width="20.38" height="16.53" fill="#3bbb75"/>
<rect x="314.44" y="404.54" width="20.38" height="16.53" fill="#38b977"/>
<rect x="334.12" y="404.54" width="40.07" height="16.53" fill="#37b878"/>
<rect x="373.49" y="404.54" width="20.38" height="16.53" fill="#22a884"/>
<rect x="393.18" y="404.54" width="20.38" height="16.53" fill="#22a785"/>
<rect x="412.86" y="404.54" width="20.38" height="16.53" fill="#1fa287"/>
<rect x="432.54" y="404.54" width="20.38" height="16.53" fill="#1f9f88"/>
<rect x="452.23" y="404.54" width="20.38" height="16.53" fill="#1e9c89"/>
<rect x="471.91" y="404.54" width="40.07" height="16.53" fill="#20928c"/>
<rect x="511.28" y="404.54" width="20.38" height="16.53" fill="#228b8d"/>
<rect x="530.96" y="404.54" width="20.38" height="16.53" fill="#24868e"/>
<rect x="550.65" y="404.54" width="20.38" height="16.53" fill="#25858e"/>
<rect x="570.33" y="404.54" width="20.38" height="16.53" fill="#25848e"/>
<rect x="590.02" y="404.54" width="19.68" height="16.53" fill="#287d8e"/>
<rect x="117.60" y="420.37" width="20.38" height="16.53" fill="#404688"/>
<rect x="137.28" y="420.37" width="20.38" height="16.53" fill="#32648e"/>
<rect x="156.97" y="420.37" width="20.38" height="16.53" fill="#24868e"/>
<rect x="176.65" y="420.37" width="20.38" height="16.53" fill="#1fa287"/>
<rect x="196.34" y="420.37" width="20.38" height="16.53" fill="#2fb47c"/>
<rect x="216.02" y="420.37" width="20.38" height="16.53" fill="#35b779"/>
<rect x="235.70" y="420.37" width="20.38" height="16.53" fill="#3fbc73"/>
<rect x="255.39" y="420.37" width="20.38" height="16.53" fill="#48c16e"/>
<rect x="275.07" y="420.37" width="20.38" height="16.53" fill="#4cc26c"/>
<rect x="294.76" y="420.37" width="59.75" height="16.53" fill="#48c16e"/>
<rect x="353.81" y="420.37" width="20.38" height="16.53" fill="#4cc26c"/>
<rect x="373.49" y="420.37" width="40.07" height="16.53" fill="#2fb47c"/>
<rect x="412.86" y="420.37" width="20.38" height="16.53" fill="#29af7f"/>
<rect x="432.54" y="420.37" width="20.38" height="16.53" fill="#26ad81"/>
<rect x="452.23" y="420.37" width="20.38" height="16.53" fill="#25ab82"/>
<rect x="471.91" y="420.37" width="20.38" height="16.53" fill="#1f9f88"/>
<rect x="491.60" y="420.37" width="20.38" height="16.53" fill="#1fa188"/>
<rect x="511.28" y="420.37" width="20.38" height="16.53" fill="#1f9a8a"/>
<rect x="530.96" y="420.37" width="40.07" height="16.53" fill="#1f958b"/>
<rect x="570.33" y="420.37" width="20.38" height="16.53" fill="#20928c"/>
<rect x="590.02" y="420.37" width="19.68" height="16.53" fill="#228b8d"/>
<rect x="117.60" y="436.19" width="20.38" height="16.53" fill="#404688"/>
<rect x="137.28" y="436.19" width="20.38" height="16.53" fill="#32648e"/>
<rect x="156.97" y="436.19" width="20.38" height="16.53" fill="#24868e"/>
<rect x="176.65" y="436.19" width="20.38" height="16.53" fill="#1fa287"/>
<rect x="196.34" y="436.19" width="20.38" height="16.53" fill="#2eb37c"/>
<rect x="216.02" y="436.19" width="20.38" height="16.53" fill="#35b779"/>
<rect x="235.70" y="436.19" width="20.38" height="16.53" fill="#3fbc73"/>
<rect x="255.39" y="436.19" width="20.38" height="16.53" fill="#48c16e"/>
<rect x="275.07" y="436.19" width="59.75" height="16.53" fill="#50c46a"/>
<rect x="334.12" y="436.19" width="20.38" height="16.53" fill="#52c569"/>
<rect x="353.81" y="436.19" width="20.38" height="16.53" fill="#5ac864"/>
<rect x="373.49" y="436.19" width="40.07" height="16.53" fill="#3dbc74"/>
<rect x="412.86" y="436.19" width="20.38" height="16.53" fill="#38b977"/>
<rect x="432.54" y="436.19" width="20.38" height="16.53" fill="#35b779"/>
<rect x="452.23" y="436.19" width="20.38" height="16.53" fill="#32b67a"/>
<rect x="471.91" y="436.19" width="20.38" height="16.53" fill="#25ab82"/>
<rect x="491.60" y="436.19" width="20.38" height="16.53" fill="#26ad81"/>
<rect x="511.28" y="436.19" width="20.38" height="16.53" fill="#22a785"/>
<rect x="530.96" y="436.19" width="40.07" height="16.53" fill="#1fa287"/>
<rect x="570.33" y="436.19" width="20.38" height="16.53" fill="#1fa188"/>
<rect x="590.02" y="436.19" width="19.68" height="16.53" fill="#1f988b"/>
<rect x="117.60" y="452.02" width="20.38" height="16.53" fill="#404688"/>
<rect x="137.28" y="452.02" width="20.38" height="16.53" fill="#32648e"/>
<rect x="156.97" y="452.02" width="20.38" height="16.53" fill="#24868e"/>
<rect x="176.65" y="452.02" width="20.38" height="16.53" fill="#1fa287"/>
<rect x="196.34" y="452.02" width="20.38" height="16.53" fill="#2eb37c"/>
<rect x="216.02" y="452.02" width="20.38" height="16.53" fill="#35b779"/>
<rect x="235.70" y="452.02" width="20.38" height="16.53" fill="#3fbc73"/>
<rect x="255.39" y="452.02" width="20.38" height="16.53" fill="#48c16e"/>
<rect x="275.07" y="452.02" width="20.38" height="16.53" fill="#52c569"/>
<rect x="294.76" y="452.02" width="40.07" height="16.53" fill="#56c667"/>
<rect x="334.12" y="452.02" width="20.38" height="16.53" fill="#58c765"/>
<rect x="353.81" y="452.02" width="20.38" height="16.53" fill="#69cd5b"/>
<rect x="373.49" y="452.02" width="40.07" height="16.53" fill="#48c16e"/>
<rect x="412.86" y="452.02" width="20.38" height="16.53" fill="#46c06f"/>
<rect x="432.54" y="452.02" width="20.38" height="16.53" fill="#44bf70"/>
<rect x="452.23" y="452.02" width="20.38" height="16.53" fill="#40bd72"/>
<rect x="471.91" y="452.02" width="20.38" height="16.53" fill="#2eb37c"/>
<rect x="491.60" y="452.02" width="20.38" height="16.53" fill="#31b57b"/>
<rect x="511.28" y="452.02" width="20.38" height="16.53" fill="#29af7f"/>
<rect x="530.96" y="452.02" width="59.75" height="16.53" fill="#25ab82"/>
<rect x="590.02" y="452.02" width="19.68" height="16.53" fill="#1fa287"/>
<rect x="117.60" y="467.85" width="20.38" height="16.53" fill="#404688"/>
<rect x="137.28" y="467.85" width="20.38" height="16.53" fill="#32648e"/>
<rect x="156.97" y="467.85" width="20.38" height="16.53" fill="#24868e"/>
<rect x="176.65" y="467.85" width="20.38" height="16.53" fill="#1fa287"/>
<rect x="196.34" y="467.85" width="20.38" height="16.53" fill="#2eb37c"/>
<rect x="216.02" y="467.85" width="20.38" height="16.53" fill="#35b779"/>
<rect x="235.70" y="467.85" width="20.38" height="16.53" fill="#3fbc73"/>
<rect x="255.39" y="467.85" width="20.38" height="16.53" fill="#48c16e"/>
<rect x="275.07" y="467.85" width="20.38" height="16.53" fill="#52c569"/>
<rect x="294.76" y="467.85" width="40.07" height="16.53" fill="#56c667"/>
<rect x="334.12" y="467.85" width="20.38" height="16.53" fill="#58c765"/>
<rect x="353.81" y="467.85" width="20.38" height="16.53" fill="#6ccd5a"/>
<rect x="373.49" y="467.85" width="20.38" height="16.53" fill="#50c46a"/>
<rect x="393.18" y="467.85" width="20.38" height="16.53" fill="#52c569"/>
<rect x="412.86" y="467.85" width="20.38" height="16.53" fill="#50c46a"/>
<rect x="432.54" y="467.85" width="20.38" height="16.53" fill="#4ec36b"/>
<rect x="452.23" y="467.85" width="20.38" height="16.53" fill="#4cc26c"/>
<rect x="471.91" y="467.85" width="20.38" height="16.53" fill="#37b878"/>
<rect x="491.60" y="467.85" width="20.38" height="16.53" fill="#3dbc74"/>
<rect x="511.28" y="467.85" width="20.38" height="16.53" fill="#32b67a"/>
<rect x="530.96" y="467.85" width="20.38" height="16.53" fill="#2ab07f"/>
<rect x="550.65" y="467.85" width="40.07" height="16.53" fill="#2cb17e"/>
<rect x="590.02" y="467.85" width="19.68" height="16.53" fill="#22a884"/>
<rect x="117.60" y="483.67" width="20.38" height="15.83" fill="#404688"/>
<rect x="137.28" y="483.67" width="20.38" height="15.83" fill="#32648e"/>
<rect x="156.97" y="483.67" width="20.38" height="15.83" fill="#24868e"/>
<rect x="176.65" y="483.67" width="20.38" height="15.83" fill="#1fa287"/>
<rect x="196.34" y="483.67" width="20.38" height="15.83" fill="#2eb37c"/>
<rect x="216.02" y="483.67" width="20.38" height="15.83" fill="#35b779"/>
<rect x="235.70" y="483.67" width="20.38" height="15.83" fill="#3fbc73"/>
<rect x="255.39" y="483.67" width="20.38" height="15.83" fill="#48c16e"/>
<rect x="275.07" y="483.67" width="20.38" height="15.83" fill="#52c569"/>
<rect x="294.76" y="483.67" width="20.38" height="15.83" fill="#56c667"/>
<rect x="314.44" y="483.67" width="20.38" height="15.83" fill="#58c765"/>
<rect x="334.12" y="483.67" width="20.38" height="15.83" fill="#5ac864"/>
<rect x="353.81" y="483.67" width="20.38" height="15.83" fill="#6ece58"/>
<rect x="373.49" y="483.67" width="20.38" height="15.83" fill="#52c569"/>
<rect x="393.18" y="483.67" width="40.07" height="15.83" fill="#56c667"/>
<rect x="432.54" y="483.67" width="20.38" height="15.83" fill="#52c569"/>
<rect x="452.23" y="483.67" width="20.38" height="15.83" fill="#50c46a"/>
<rect x="471.91" y="483.67" width="20.38" height="15.83" fill="#3bbb75"/>
<rect x="491.60" y="483.67" width="20.38" height="15.83" fill="#44bf70"/>
<rect x="511.28" y="483.67" width="20.38" height="15.83" fill="#38b977"/>
<rect x="530.96" y="483.67" width="59.75" height="15.83" fill="#2fb47c"/>
<rect x="590.02" y="483.67" width="19.68" height="15.83" fill="#25ac82"/>
</g>
<rect x="117.60" y="17.00" width="492.10" height="482.50" fill="none" stroke="#111" stroke-width="1.10"/>
<line x1="107.30" y1="24.70" x2="117.60" y2="24.70" stroke="#2a2a2a" stroke-width="1.15"/>
<text transform="translate(0 33.00) scale(1.1000 1)" font-size="23.70"><tspan x="56.13 68.59 74.38">3.0</tspan></text>
<line x1="107.30" y1="143.40" x2="117.60" y2="143.40" stroke="#2a2a2a" stroke-width="1.15"/>
<text transform="translate(0 151.70) scale(1.1000 1)" font-size="23.70"><tspan x="58.18 69.23 74.45">1.5</tspan></text>
<line x1="107.30" y1="262.10" x2="117.60" y2="262.10" stroke="#2a2a2a" stroke-width="1.15"/>
<text transform="translate(0 270.40) scale(1.1000 1)" font-size="23.70"><tspan x="74.38">0</tspan></text>
<line x1="107.30" y1="380.80" x2="117.60" y2="380.80" stroke="#2a2a2a" stroke-width="1.15"/>
<text transform="translate(0 389.10) scale(1.1000 1)" font-size="23.70"><tspan x="49.06" dy="-1.50" font-size="17.54" stroke="#000" stroke-width="0.35">–</tspan><tspan x="58.18 69.23 74.45" dy="1.50">1.5</tspan></text>
<line x1="107.30" y1="499.50" x2="117.60" y2="499.50" stroke="#2a2a2a" stroke-width="1.15"/>
<text transform="translate(0 507.80) scale(1.1000 1)" font-size="23.70"><tspan x="46.11" dy="-1.50" font-size="17.54" stroke="#000" stroke-width="0.35">–</tspan><tspan x="56.13 68.59 74.38" dy="1.50">3.0</tspan></text>
<line x1="117.60" y1="499.50" x2="117.60" y2="509.80" stroke="#2a2a2a" stroke-width="1.15"/>
<text transform="translate(0 538.60) scale(1.1000 1)" font-size="23.70"><tspan x="99.54">1</tspan></text>
<line x1="196.34" y1="499.50" x2="196.34" y2="509.80" stroke="#2a2a2a" stroke-width="1.15"/>
<text transform="translate(0 538.60) scale(1.1000 1)" font-size="23.70"><tspan x="171.47">5</tspan></text>
<line x1="275.07" y1="499.50" x2="275.07" y2="509.80" stroke="#2a2a2a" stroke-width="1.15"/>
<text transform="translate(0 538.60) scale(1.1000 1)" font-size="23.70"><tspan x="243.03">9</tspan></text>
<line x1="353.81" y1="499.50" x2="353.81" y2="509.80" stroke="#2a2a2a" stroke-width="1.15"/>
<text transform="translate(0 538.60) scale(1.1000 1)" font-size="23.70"><tspan x="308.07 320.37">13</tspan></text>
<line x1="432.54" y1="499.50" x2="432.54" y2="509.80" stroke="#2a2a2a" stroke-width="1.15"/>
<text transform="translate(0 538.60) scale(1.1000 1)" font-size="23.70"><tspan x="379.88 391.87">17</tspan></text>
<line x1="511.28" y1="499.50" x2="511.28" y2="509.80" stroke="#2a2a2a" stroke-width="1.15"/>
<text transform="translate(0 538.60) scale(1.1000 1)" font-size="23.70"><tspan x="452.05 463.42">21</tspan></text>
<line x1="590.02" y1="499.50" x2="590.02" y2="509.80" stroke="#2a2a2a" stroke-width="1.15"/>
<text transform="translate(0 538.60) scale(1.1000 1)" font-size="23.70"><tspan x="522.63 535.84">25</tspan></text>
<defs><linearGradient id="cba" x1="0" y1="1" x2="0" y2="0">
<stop offset="0.0000" stop-color="#440154"/>
<stop offset="0.0250" stop-color="#460a5d"/>
<stop offset="0.0500" stop-color="#471365"/>
<stop offset="0.0750" stop-color="#481c6e"/>
<stop offset="0.1000" stop-color="#482475"/>
<stop offset="0.1250" stop-color="#472d7b"/>
<stop offset="0.1500" stop-color="#463480"/>
<stop offset="0.1750" stop-color="#443b84"/>
<stop offset="0.2000" stop-color="#414487"/>
<stop offset="0.2250" stop-color="#3e4a89"/>
<stop offset="0.2500" stop-color="#3b528b"/>
<stop offset="0.2750" stop-color="#38598c"/>
<stop offset="0.3000" stop-color="#355f8d"/>
<stop offset="0.3250" stop-color="#31668e"/>
<stop offset="0.3500" stop-color="#2f6c8e"/>
<stop offset="0.3750" stop-color="#2c728e"/>
<stop offset="0.4000" stop-color="#2a788e"/>
<stop offset="0.4250" stop-color="#277e8e"/>
<stop offset="0.4500" stop-color="#25848e"/>
<stop offset="0.4750" stop-color="#238a8d"/>
<stop offset="0.5000" stop-color="#21918c"/>
<stop offset="0.5250" stop-color="#1f968b"/>
<stop offset="0.5500" stop-color="#1e9c89"/>
<stop offset="0.5750" stop-color="#1fa287"/>
<stop offset="0.6000" stop-color="#22a884"/>
<stop offset="0.6250" stop-color="#28ae80"/>
<stop offset="0.6500" stop-color="#2fb47c"/>
<stop offset="0.6750" stop-color="#38b977"/>
<stop offset="0.7000" stop-color="#44bf70"/>
<stop offset="0.7250" stop-color="#50c46a"/>
<stop offset="0.7500" stop-color="#5ec962"/>
<stop offset="0.7750" stop-color="#6ccd5a"/>
<stop offset="0.8000" stop-color="#7ad151"/>
<stop offset="0.8250" stop-color="#8bd646"/>
<stop offset="0.8500" stop-color="#9bd93c"/>
<stop offset="0.8750" stop-color="#addc30"/>
<stop offset="0.9000" stop-color="#bddf26"/>
<stop offset="0.9250" stop-color="#cde11d"/>
<stop offset="0.9500" stop-color="#dfe318"/>
<stop offset="0.9750" stop-color="#efe51c"/>
<stop offset="1.0000" stop-color="#fde725"/>
</linearGradient></defs>
<rect x="640.50" y="17.00" width="24.10" height="482.50" fill="url(#cba)" stroke="#000" stroke-width="1.0"/>
<line x1="664.60" y1="23.90" x2="674.90" y2="23.90" stroke="#2a2a2a" stroke-width="1.15"/>
<text transform="translate(0 32.20) scale(1.1000 1)" font-size="23.70"><tspan x="623.80 638.06 652.51">600</tspan></text>
<line x1="664.60" y1="110.35" x2="674.90" y2="110.35" stroke="#2a2a2a" stroke-width="1.15"/>
<text transform="translate(0 118.65) scale(1.1000 1)" font-size="23.70"><tspan x="624.05 637.89 652.35">500</tspan></text>
<line x1="664.60" y1="196.80" x2="674.90" y2="196.80" stroke="#2a2a2a" stroke-width="1.15"/>
<text transform="translate(0 205.10) scale(1.1000 1)" font-size="23.70"><tspan x="624.46 638.74 653.20">400</tspan></text>
<line x1="664.60" y1="283.25" x2="674.90" y2="283.25" stroke="#2a2a2a" stroke-width="1.15"/>
<text transform="translate(0 291.55) scale(1.1000 1)" font-size="23.70"><tspan x="624.10 637.89 652.35">300</tspan></text>
<line x1="664.60" y1="369.70" x2="674.90" y2="369.70" stroke="#2a2a2a" stroke-width="1.15"/>
<text transform="translate(0 378.00) scale(1.1000 1)" font-size="23.70"><tspan x="623.81 637.58 652.04">200</tspan></text>
<line x1="664.60" y1="456.15" x2="674.90" y2="456.15" stroke="#2a2a2a" stroke-width="1.15"/>
<text transform="translate(0 464.45) scale(1.1000 1)" font-size="23.70"><tspan x="623.19 635.47 649.93">100</tspan></text>
<text transform="translate(266.69 582.85) scale(1.0728 1)" font-size="26.30">Pulse number</text>
<text transform="translate(23.00 303.48) rotate(-90) scale(0.9923 1)" font-size="26.30">Δ<tspan font-style="italic">E</tspan> (eV)</text>
<text transform="translate(0.24 33.20) scale(0.9970 1)" font-size="38.00" fill="#000" stroke="#000" stroke-width="1.3" stroke-linejoin="round"><tspan font-weight="bold">a</tspan></text>
<g>
<rect x="117.60" y="645.80" width="492.10" height="8.90" fill="#471164"/>
<rect x="117.60" y="654.00" width="492.10" height="16.51" fill="#471164"/>
<rect x="117.60" y="669.81" width="492.10" height="16.51" fill="#471164"/>
<rect x="117.60" y="685.63" width="492.10" height="16.51" fill="#471164"/>
<rect x="117.60" y="701.44" width="492.10" height="16.51" fill="#471164"/>
<rect x="117.60" y="717.25" width="492.10" height="16.51" fill="#471164"/>
<rect x="117.60" y="733.07" width="492.10" height="16.51" fill="#471164"/>
<rect x="117.60" y="748.88" width="20.38" height="16.51" fill="#470d60"/>
<rect x="137.28" y="748.88" width="20.38" height="16.51" fill="#471063"/>
<rect x="156.97" y="748.88" width="59.75" height="16.51" fill="#471164"/>
<rect x="216.02" y="748.88" width="393.68" height="16.51" fill="#471365"/>
<rect x="117.60" y="764.69" width="40.07" height="16.51" fill="#470d60"/>
<rect x="156.97" y="764.69" width="20.38" height="16.51" fill="#471063"/>
<rect x="176.65" y="764.69" width="20.38" height="16.51" fill="#471365"/>
<rect x="196.34" y="764.69" width="99.12" height="16.51" fill="#481668"/>
<rect x="294.76" y="764.69" width="197.54" height="16.51" fill="#481769"/>
<rect x="491.60" y="764.69" width="118.10" height="16.51" fill="#481668"/>
<rect x="117.60" y="780.51" width="20.38" height="16.51" fill="#470d60"/>
<rect x="137.28" y="780.51" width="20.38" height="16.51" fill="#471063"/>
<rect x="156.97" y="780.51" width="20.38" height="16.51" fill="#471365"/>
<rect x="176.65" y="780.51" width="20.38" height="16.51" fill="#481769"/>
<rect x="196.34" y="780.51" width="20.38" height="16.51" fill="#481c6e"/>
<rect x="216.02" y="780.51" width="40.07" height="16.51" fill="#481d6f"/>
<rect x="255.39" y="780.51" width="59.75" height="16.51" fill="#481f70"/>
<rect x="314.44" y="780.51" width="40.07" height="16.51" fill="#482071"/>
<rect x="353.81" y="780.51" width="138.49" height="16.51" fill="#482173"/>
<rect x="491.60" y="780.51" width="118.10" height="16.51" fill="#481d6f"/>
<rect x="117.60" y="796.32" width="20.38" height="16.51" fill="#470d60"/>
<rect x="137.28" y="796.32" width="20.38" height="16.51" fill="#481668"/>
<rect x="156.97" y="796.32" width="20.38" height="16.51" fill="#481c6e"/>
<rect x="176.65" y="796.32" width="20.38" height="16.51" fill="#481f70"/>
<rect x="196.34" y="796.32" width="20.38" height="16.51" fill="#482979"/>
<rect x="216.02" y="796.32" width="40.07" height="16.51" fill="#472e7c"/>
<rect x="255.39" y="796.32" width="59.75" height="16.51" fill="#472f7d"/>
<rect x="314.44" y="796.32" width="177.86" height="16.51" fill="#46307e"/>
<rect x="491.60" y="796.32" width="118.10" height="16.51" fill="#472e7c"/>
<rect x="117.60" y="812.13" width="20.38" height="16.51" fill="#471063"/>
<rect x="137.28" y="812.13" width="20.38" height="16.51" fill="#481d6f"/>
<rect x="156.97" y="812.13" width="20.38" height="16.51" fill="#472a7a"/>
<rect x="176.65" y="812.13" width="20.38" height="16.51" fill="#46307e"/>
<rect x="196.34" y="812.13" width="20.38" height="16.51" fill="#424086"/>
<rect x="216.02" y="812.13" width="20.38" height="16.51" fill="#414487"/>
<rect x="235.70" y="812.13" width="20.38" height="16.51" fill="#404688"/>
<rect x="255.39" y="812.13" width="40.07" height="16.51" fill="#3f4788"/>
<rect x="294.76" y="812.13" width="59.75" height="16.51" fill="#3f4889"/>
<rect x="353.81" y="812.13" width="20.38" height="16.51" fill="#3e4989"/>
<rect x="373.49" y="812.13" width="118.80" height="16.51" fill="#3f4889"/>
<rect x="491.60" y="812.13" width="118.10" height="16.51" fill="#424186"/>
<rect x="117.60" y="827.95" width="20.38" height="16.51" fill="#472a7a"/>
<rect x="137.28" y="827.95" width="20.38" height="16.51" fill="#443a83"/>
<rect x="156.97" y="827.95" width="20.38" height="16.51" fill="#3e4c8a"/>
<rect x="176.65" y="827.95" width="20.38" height="16.51" fill="#3a548c"/>
<rect x="196.34" y="827.95" width="20.38" height="16.51" fill="#31678e"/>
<rect x="216.02" y="827.95" width="20.38" height="16.51" fill="#31688e"/>
<rect x="235.70" y="827.95" width="20.38" height="16.51" fill="#2f6c8e"/>
<rect x="255.39" y="827.95" width="20.38" height="16.51" fill="#2e6d8e"/>
<rect x="275.07" y="827.95" width="20.38" height="16.51" fill="#2e6e8e"/>
<rect x="294.76" y="827.95" width="20.38" height="16.51" fill="#2e6f8e"/>
<rect x="314.44" y="827.95" width="40.07" height="16.51" fill="#2d708e"/>
<rect x="353.81" y="827.95" width="20.38" height="16.51" fill="#2d718e"/>
<rect x="373.49" y="827.95" width="20.38" height="16.51" fill="#2f6c8e"/>
<rect x="393.18" y="827.95" width="79.44" height="16.51" fill="#306a8e"/>
<rect x="471.91" y="827.95" width="20.38" height="16.51" fill="#31678e"/>
<rect x="491.60" y="827.95" width="20.38" height="16.51" fill="#355f8d"/>
<rect x="511.28" y="827.95" width="20.38" height="16.51" fill="#33628d"/>
<rect x="530.96" y="827.95" width="78.74" height="16.51" fill="#355e8d"/>
<rect x="117.60" y="843.76" width="20.38" height="16.51" fill="#38588c"/>
<rect x="137.28" y="843.76" width="20.38" height="16.51" fill="#31678e"/>
<rect x="156.97" y="843.76" width="20.38" height="16.51" fill="#2a788e"/>
<rect x="176.65" y="843.76" width="20.38" height="16.51" fill="#25848e"/>
<rect x="196.34" y="843.76" width="20.38" height="16.51" fill="#22a884"/>
<rect x="216.02" y="843.76" width="20.38" height="16.51" fill="#20a386"/>
<rect x="235.70" y="843.76" width="20.38" height="16.51" fill="#21a685"/>
<rect x="255.39" y="843.76" width="20.38" height="16.51" fill="#22a884"/>
<rect x="275.07" y="843.76" width="20.38" height="16.51" fill="#26ad81"/>
<rect x="294.76" y="843.76" width="40.07" height="16.51" fill="#25ab82"/>
<rect x="334.12" y="843.76" width="20.38" height="16.51" fill="#22a884"/>
<rect x="353.81" y="843.76" width="20.38" height="16.51" fill="#2fb47c"/>
<rect x="373.49" y="843.76" width="20.38" height="16.51" fill="#1fa188"/>
<rect x="393.18" y="843.76" width="20.38" height="16.51" fill="#1f9f88"/>
<rect x="412.86" y="843.76" width="20.38" height="16.51" fill="#1e9c89"/>
<rect x="432.54" y="843.76" width="20.38" height="16.51" fill="#1e9b8a"/>
<rect x="452.23" y="843.76" width="20.38" height="16.51" fill="#1f978b"/>
<rect x="471.91" y="843.76" width="20.38" height="16.51" fill="#20928c"/>
<rect x="491.60" y="843.76" width="20.38" height="16.51" fill="#23898e"/>
<rect x="511.28" y="843.76" width="20.38" height="16.51" fill="#218e8d"/>
<rect x="530.96" y="843.76" width="20.38" height="16.51" fill="#24868e"/>
<rect x="550.65" y="843.76" width="59.05" height="16.51" fill="#25858e"/>
<rect x="117.60" y="859.57" width="20.38" height="16.51" fill="#25848e"/>
<rect x="137.28" y="859.57" width="20.38" height="16.51" fill="#23898e"/>
<rect x="156.97" y="859.57" width="20.38" height="16.51" fill="#29af7f"/>
<rect x="176.65" y="859.57" width="20.38" height="16.51" fill="#44bf70"/>
<rect x="196.34" y="859.57" width="20.38" height="16.51" fill="#cae11f"/>
<rect x="216.02" y="859.57" width="40.07" height="16.51" fill="#8ed645"/>
<rect x="255.39" y="859.57" width="20.38" height="16.51" fill="#a2da37"/>
<rect x="275.07" y="859.57" width="20.38" height="16.51" fill="#c8e020"/>
<rect x="294.76" y="859.57" width="20.38" height="16.51" fill="#b5de2b"/>
<rect x="314.44" y="859.57" width="20.38" height="16.51" fill="#b2dd2d"/>
<rect x="334.12" y="859.57" width="20.38" height="16.51" fill="#a8db34"/>
<rect x="353.81" y="859.57" width="20.38" height="16.51" fill="#eae51a"/>
<rect x="373.49" y="859.57" width="20.38" height="16.51" fill="#81d34d"/>
<rect x="393.18" y="859.57" width="20.38" height="16.51" fill="#75d054"/>
<rect x="412.86" y="859.57" width="20.38" height="16.51" fill="#6ccd5a"/>
<rect x="432.54" y="859.57" width="20.38" height="16.51" fill="#6ece58"/>
<rect x="452.23" y="859.57" width="20.38" height="16.51" fill="#69cd5b"/>
<rect x="471.91" y="859.57" width="20.38" height="16.51" fill="#58c765"/>
<rect x="491.60" y="859.57" width="20.38" height="16.51" fill="#38b977"/>
<rect x="511.28" y="859.57" width="20.38" height="16.51" fill="#65cb5e"/>
<rect x="530.96" y="859.57" width="40.07" height="16.51" fill="#3fbc73"/>
<rect x="570.33" y="859.57" width="39.37" height="16.51" fill="#3dbc74"/>
<rect x="117.60" y="875.39" width="20.38" height="16.51" fill="#23898e"/>
<rect x="137.28" y="875.39" width="20.38" height="16.51" fill="#21918c"/>
<rect x="156.97" y="875.39" width="20.38" height="16.51" fill="#2cb17e"/>
<rect x="176.65" y="875.39" width="20.38" height="16.51" fill="#5ac864"/>
<rect x="196.34" y="875.39" width="20.38" height="16.51" fill="#cde11d"/>
<rect x="216.02" y="875.39" width="20.38" height="16.51" fill="#a2da37"/>
<rect x="235.70" y="875.39" width="20.38" height="16.51" fill="#a5db36"/>
<rect x="255.39" y="875.39" width="20.38" height="16.51" fill="#cae11f"/>
<rect x="275.07" y="875.39" width="20.38" height="16.51" fill="#d8e219"/>
<rect x="294.76" y="875.39" width="20.38" height="16.51" fill="#c8e020"/>
<rect x="314.44" y="875.39" width="20.38" height="16.51" fill="#c2df23"/>
<rect x="334.12" y="875.39" width="20.38" height="16.51" fill="#c0df25"/>
<rect x="353.81" y="875.39" width="20.38" height="16.51" fill="#fde725"/>
<rect x="373.49" y="875.39" width="20.38" height="16.51" fill="#9dd93b"/>
<rect x="393.18" y="875.39" width="20.38" height="16.51" fill="#9bd93c"/>
<rect x="412.86" y="875.39" width="20.38" height="16.51" fill="#8bd646"/>
<rect x="432.54" y="875.39" width="20.38" height="16.51" fill="#95d840"/>
<rect x="452.23" y="875.39" width="20.38" height="16.51" fill="#8bd646"/>
<rect x="471.91" y="875.39" width="20.38" height="16.51" fill="#7ad151"/>
<rect x="491.60" y="875.39" width="20.38" height="16.51" fill="#58c765"/>
<rect x="511.28" y="875.39" width="20.38" height="16.51" fill="#98d83e"/>
<rect x="530.96" y="875.39" width="40.07" height="16.51" fill="#69cd5b"/>
<rect x="570.33" y="875.39" width="39.37" height="16.51" fill="#65cb5e"/>
<rect x="117.60" y="891.20" width="20.38" height="16.51" fill="#2e6f8e"/>
<rect x="137.28" y="891.20" width="20.38" height="16.51" fill="#2a788e"/>
<rect x="156.97" y="891.20" width="20.38" height="16.51" fill="#218e8d"/>
<rect x="176.65" y="891.20" width="20.38" height="16.51" fill="#20a386"/>
<rect x="196.34" y="891.20" width="20.38" height="16.51" fill="#3fbc73"/>
<rect x="216.02" y="891.20" width="20.38" height="16.51" fill="#3dbc74"/>
<rect x="235.70" y="891.20" width="20.38" height="16.51" fill="#3fbc73"/>
<rect x="255.39" y="891.20" width="20.38" height="16.51" fill="#56c667"/>
<rect x="275.07" y="891.20" width="20.38" height="16.51" fill="#58c765"/>
<rect x="294.76" y="891.20" width="59.75" height="16.51" fill="#52c569"/>
<rect x="353.81" y="891.20" width="20.38" height="16.51" fill="#69cd5b"/>
<rect x="373.49" y="891.20" width="40.07" height="16.51" fill="#3fbc73"/>
<rect x="412.86" y="891.20" width="40.07" height="16.51" fill="#3bbb75"/>
<rect x="452.23" y="891.20" width="20.38" height="16.51" fill="#37b878"/>
<rect x="471.91" y="891.20" width="20.38" height="16.51" fill="#2fb47c"/>
<rect x="491.60" y="891.20" width="20.38" height="16.51" fill="#26ad81"/>
<rect x="511.28" y="891.20" width="20.38" height="16.51" fill="#37b878"/>
<rect x="530.96" y="891.20" width="78.74" height="16.51" fill="#29af7f"/>
<rect x="117.60" y="907.01" width="20.38" height="16.51" fill="#414487"/>
<rect x="137.28" y="907.01" width="20.38" height="16.51" fill="#38588c"/>
<rect x="156.97" y="907.01" width="20.38" height="16.51" fill="#31678e"/>
<rect x="176.65" y="907.01" width="20.38" height="16.51" fill="#2d718e"/>
<rect x="196.34" y="907.01" width="20.38" height="16.51" fill="#26828e"/>
<rect x="216.02" y="907.01" width="20.38" height="16.51" fill="#25848e"/>
<rect x="235.70" y="907.01" width="20.38" height="16.51" fill="#24868e"/>
<rect x="255.39" y="907.01" width="20.38" height="16.51" fill="#23898e"/>
<rect x="275.07" y="907.01" width="79.44" height="16.51" fill="#228b8d"/>
<rect x="353.81" y="907.01" width="20.38" height="16.51" fill="#218e8d"/>
<rect x="373.49" y="907.01" width="20.38" height="16.51" fill="#25848e"/>
<rect x="393.18" y="907.01" width="99.12" height="16.51" fill="#26828e"/>
<rect x="491.60" y="907.01" width="20.38" height="16.51" fill="#287d8e"/>
<rect x="511.28" y="907.01" width="20.38" height="16.51" fill="#26818e"/>
<rect x="530.96" y="907.01" width="78.74" height="16.51" fill="#277e8e"/>
<rect x="117.60" y="922.83" width="20.38" height="16.51" fill="#482173"/>
<rect x="137.28" y="922.83" width="20.38" height="16.51" fill="#463480"/>
<rect x="156.97" y="922.83" width="20.38" height="16.51" fill="#424086"/>
<rect x="176.65" y="922.83" width="20.38" height="16.51" fill="#3e4989"/>
<rect x="196.34" y="922.83" width="20.38" height="16.51" fill="#38588c"/>
<rect x="216.02" y="922.83" width="20.38" height="16.51" fill="#375a8c"/>
<rect x="235.70" y="922.83" width="20.38" height="16.51" fill="#365d8d"/>
<rect x="255.39" y="922.83" width="20.38" height="16.51" fill="#355f8d"/>
<rect x="275.07" y="922.83" width="79.44" height="16.51" fill="#33628d"/>
<rect x="353.81" y="922.83" width="20.38" height="16.51" fill="#32648e"/>
<rect x="373.49" y="922.83" width="118.80" height="16.51" fill="#355f8d"/>
<rect x="491.60" y="922.83" width="118.10" height="16.51" fill="#375b8d"/>
<rect x="117.60" y="938.64" width="20.38" height="16.51" fill="#471365"/>
<rect x="137.28" y="938.64" width="20.38" height="16.51" fill="#481d6f"/>
<rect x="156.97" y="938.64" width="20.38" height="16.51" fill="#472a7a"/>
<rect x="176.65" y="938.64" width="20.38" height="16.51" fill="#46307e"/>
<rect x="196.34" y="938.64" width="20.38" height="16.51" fill="#443a83"/>
<rect x="216.02" y="938.64" width="20.38" height="16.51" fill="#433e85"/>
<rect x="235.70" y="938.64" width="20.38" height="16.51" fill="#424086"/>
<rect x="255.39" y="938.64" width="20.38" height="16.51" fill="#424186"/>
<rect x="275.07" y="938.64" width="40.07" height="16.51" fill="#414487"/>
<rect x="314.44" y="938.64" width="20.38" height="16.51" fill="#404588"/>
<rect x="334.12" y="938.64" width="40.07" height="16.51" fill="#404688"/>
<rect x="373.49" y="938.64" width="118.80" height="16.51" fill="#414487"/>
<rect x="491.60" y="938.64" width="118.10" height="16.51" fill="#424186"/>
<rect x="117.60" y="954.45" width="20.38" height="16.51" fill="#460b5e"/>
<rect x="137.28" y="954.45" width="20.38" height="16.51" fill="#471365"/>
<rect x="156.97" y="954.45" width="20.38" height="16.51" fill="#481a6c"/>
<rect x="176.65" y="954.45" width="20.38" height="16.51" fill="#481d6f"/>
<rect x="196.34" y="954.45" width="20.38" height="16.51" fill="#482475"/>
<rect x="216.02" y="954.45" width="20.38" height="16.51" fill="#482878"/>
<rect x="235.70" y="954.45" width="20.38" height="16.51" fill="#482979"/>
<rect x="255.39" y="954.45" width="20.38" height="16.51" fill="#472a7a"/>
<rect x="275.07" y="954.45" width="40.07" height="16.51" fill="#472c7a"/>
<rect x="314.44" y="954.45" width="40.07" height="16.51" fill="#472d7b"/>
<rect x="353.81" y="954.45" width="20.38" height="16.51" fill="#472e7c"/>
<rect x="373.49" y="954.45" width="118.80" height="16.51" fill="#472d7b"/>
<rect x="491.60" y="954.45" width="118.10" height="16.51" fill="#472a7a"/>
<rect x="117.60" y="970.27" width="20.38" height="16.51" fill="#460b5e"/>
<rect x="137.28" y="970.27" width="20.38" height="16.51" fill="#471063"/>
<rect x="156.97" y="970.27" width="20.38" height="16.51" fill="#471164"/>
<rect x="176.65" y="970.27" width="20.38" height="16.51" fill="#481668"/>
<rect x="196.34" y="970.27" width="20.38" height="16.51" fill="#481a6c"/>
<rect x="216.02" y="970.27" width="99.12" height="16.51" fill="#481c6e"/>
<rect x="314.44" y="970.27" width="138.49" height="16.51" fill="#481d6f"/>
<rect x="452.23" y="970.27" width="157.47" height="16.51" fill="#481c6e"/>
<rect x="117.60" y="986.08" width="20.38" height="16.51" fill="#460b5e"/>
<rect x="137.28" y="986.08" width="20.38" height="16.51" fill="#470d60"/>
<rect x="156.97" y="986.08" width="20.38" height="16.51" fill="#471063"/>
<rect x="176.65" y="986.08" width="20.38" height="16.51" fill="#471164"/>
<rect x="196.34" y="986.08" width="40.07" height="16.51" fill="#471365"/>
<rect x="235.70" y="986.08" width="118.80" height="16.51" fill="#481467"/>
<rect x="353.81" y="986.08" width="255.89" height="16.51" fill="#481668"/>
<rect x="117.60" y="1001.89" width="20.38" height="16.51" fill="#470d60"/>
<rect x="137.28" y="1001.89" width="20.38" height="16.51" fill="#470e61"/>
<rect x="156.97" y="1001.89" width="40.07" height="16.51" fill="#471063"/>
<rect x="196.34" y="1001.89" width="99.12" height="16.51" fill="#471164"/>
<rect x="294.76" y="1001.89" width="314.94" height="16.51" fill="#471365"/>
<rect x="117.60" y="1017.71" width="492.10" height="16.51" fill="#471164"/>
<rect x="117.60" y="1033.52" width="492.10" height="16.51" fill="#471164"/>
<rect x="117.60" y="1049.33" width="492.10" height="16.51" fill="#471164"/>
<rect x="117.60" y="1065.15" width="492.10" height="16.51" fill="#471164"/>
<rect x="117.60" y="1080.96" width="492.10" height="16.51" fill="#471164"/>
<rect x="117.60" y="1096.77" width="492.10" height="16.51" fill="#471164"/>
<rect x="117.60" y="1112.59" width="492.10" height="15.81" fill="#471164"/>
</g>
<rect x="117.60" y="645.80" width="492.10" height="482.60" fill="none" stroke="#111" stroke-width="1.10"/>
<line x1="107.30" y1="654.00" x2="117.60" y2="654.00" stroke="#2a2a2a" stroke-width="1.15"/>
<text transform="translate(0 662.30) scale(1.1000 1)" font-size="23.70"><tspan x="56.13 68.59 74.38">3.0</tspan></text>
<line x1="107.30" y1="772.60" x2="117.60" y2="772.60" stroke="#2a2a2a" stroke-width="1.15"/>
<text transform="translate(0 780.90) scale(1.1000 1)" font-size="23.70"><tspan x="58.18 69.23 74.45">1.5</tspan></text>
<line x1="107.30" y1="891.20" x2="117.60" y2="891.20" stroke="#2a2a2a" stroke-width="1.15"/>
<text transform="translate(0 899.50) scale(1.1000 1)" font-size="23.70"><tspan x="74.38">0</tspan></text>
<line x1="107.30" y1="1009.80" x2="117.60" y2="1009.80" stroke="#2a2a2a" stroke-width="1.15"/>
<text transform="translate(0 1018.10) scale(1.1000 1)" font-size="23.70"><tspan x="49.06" dy="-1.50" font-size="17.54" stroke="#000" stroke-width="0.35">–</tspan><tspan x="58.18 69.23 74.45" dy="1.50">1.5</tspan></text>
<line x1="107.30" y1="1128.40" x2="117.60" y2="1128.40" stroke="#2a2a2a" stroke-width="1.15"/>
<text transform="translate(0 1136.70) scale(1.1000 1)" font-size="23.70"><tspan x="46.11" dy="-1.50" font-size="17.54" stroke="#000" stroke-width="0.35">–</tspan><tspan x="56.13 68.59 74.38" dy="1.50">3.0</tspan></text>
<line x1="117.60" y1="1128.40" x2="117.60" y2="1138.70" stroke="#2a2a2a" stroke-width="1.15"/>
<text transform="translate(0 1167.50) scale(1.1000 1)" font-size="23.70"><tspan x="99.54">1</tspan></text>
<line x1="196.34" y1="1128.40" x2="196.34" y2="1138.70" stroke="#2a2a2a" stroke-width="1.15"/>
<text transform="translate(0 1167.50) scale(1.1000 1)" font-size="23.70"><tspan x="171.47">5</tspan></text>
<line x1="275.07" y1="1128.40" x2="275.07" y2="1138.70" stroke="#2a2a2a" stroke-width="1.15"/>
<text transform="translate(0 1167.50) scale(1.1000 1)" font-size="23.70"><tspan x="243.03">9</tspan></text>
<line x1="353.81" y1="1128.40" x2="353.81" y2="1138.70" stroke="#2a2a2a" stroke-width="1.15"/>
<text transform="translate(0 1167.50) scale(1.1000 1)" font-size="23.70"><tspan x="308.07 320.37">13</tspan></text>
<line x1="432.54" y1="1128.40" x2="432.54" y2="1138.70" stroke="#2a2a2a" stroke-width="1.15"/>
<text transform="translate(0 1167.50) scale(1.1000 1)" font-size="23.70"><tspan x="379.88 391.87">17</tspan></text>
<line x1="511.28" y1="1128.40" x2="511.28" y2="1138.70" stroke="#2a2a2a" stroke-width="1.15"/>
<text transform="translate(0 1167.50) scale(1.1000 1)" font-size="23.70"><tspan x="452.05 463.42">21</tspan></text>
<line x1="590.02" y1="1128.40" x2="590.02" y2="1138.70" stroke="#2a2a2a" stroke-width="1.15"/>
<text transform="translate(0 1167.50) scale(1.1000 1)" font-size="23.70"><tspan x="522.63 535.84">25</tspan></text>
<defs><linearGradient id="cbc" x1="0" y1="1" x2="0" y2="0">
<stop offset="0.0000" stop-color="#440154"/>
<stop offset="0.0250" stop-color="#460a5d"/>
<stop offset="0.0500" stop-color="#471365"/>
<stop offset="0.0750" stop-color="#481c6e"/>
<stop offset="0.1000" stop-color="#482475"/>
<stop offset="0.1250" stop-color="#472d7b"/>
<stop offset="0.1500" stop-color="#463480"/>
<stop offset="0.1750" stop-color="#443b84"/>
<stop offset="0.2000" stop-color="#414487"/>
<stop offset="0.2250" stop-color="#3e4a89"/>
<stop offset="0.2500" stop-color="#3b528b"/>
<stop offset="0.2750" stop-color="#38598c"/>
<stop offset="0.3000" stop-color="#355f8d"/>
<stop offset="0.3250" stop-color="#31668e"/>
<stop offset="0.3500" stop-color="#2f6c8e"/>
<stop offset="0.3750" stop-color="#2c728e"/>
<stop offset="0.4000" stop-color="#2a788e"/>
<stop offset="0.4250" stop-color="#277e8e"/>
<stop offset="0.4500" stop-color="#25848e"/>
<stop offset="0.4750" stop-color="#238a8d"/>
<stop offset="0.5000" stop-color="#21918c"/>
<stop offset="0.5250" stop-color="#1f968b"/>
<stop offset="0.5500" stop-color="#1e9c89"/>
<stop offset="0.5750" stop-color="#1fa287"/>
<stop offset="0.6000" stop-color="#22a884"/>
<stop offset="0.6250" stop-color="#28ae80"/>
<stop offset="0.6500" stop-color="#2fb47c"/>
<stop offset="0.6750" stop-color="#38b977"/>
<stop offset="0.7000" stop-color="#44bf70"/>
<stop offset="0.7250" stop-color="#50c46a"/>
<stop offset="0.7500" stop-color="#5ec962"/>
<stop offset="0.7750" stop-color="#6ccd5a"/>
<stop offset="0.8000" stop-color="#7ad151"/>
<stop offset="0.8250" stop-color="#8bd646"/>
<stop offset="0.8500" stop-color="#9bd93c"/>
<stop offset="0.8750" stop-color="#addc30"/>
<stop offset="0.9000" stop-color="#bddf26"/>
<stop offset="0.9250" stop-color="#cde11d"/>
<stop offset="0.9500" stop-color="#dfe318"/>
<stop offset="0.9750" stop-color="#efe51c"/>
<stop offset="1.0000" stop-color="#fde725"/>
</linearGradient></defs>
<rect x="640.50" y="645.80" width="24.10" height="482.60" fill="url(#cbc)" stroke="#000" stroke-width="1.0"/>
<line x1="664.60" y1="692.60" x2="674.90" y2="692.60" stroke="#2a2a2a" stroke-width="1.15"/>
<text transform="translate(0 700.90) scale(1.1000 1)" font-size="23.70"><tspan x="623.97 638.15 652.61">800</tspan></text>
<line x1="664.60" y1="800.00" x2="674.90" y2="800.00" stroke="#2a2a2a" stroke-width="1.15"/>
<text transform="translate(0 808.30) scale(1.1000 1)" font-size="23.70"><tspan x="623.80 638.06 652.51">600</tspan></text>
<line x1="664.60" y1="907.40" x2="674.90" y2="907.40" stroke="#2a2a2a" stroke-width="1.15"/>
<text transform="translate(0 915.70) scale(1.1000 1)" font-size="23.70"><tspan x="624.46 638.74 653.20">400</tspan></text>
<line x1="664.60" y1="1014.80" x2="674.90" y2="1014.80" stroke="#2a2a2a" stroke-width="1.15"/>
<text transform="translate(0 1023.10) scale(1.1000 1)" font-size="23.70"><tspan x="623.81 637.58 652.04">200</tspan></text>
<line x1="664.60" y1="1122.20" x2="674.90" y2="1122.20" stroke="#2a2a2a" stroke-width="1.15"/>
<text transform="translate(0 1130.50) scale(1.1000 1)" font-size="23.70"><tspan x="624.07">0</tspan></text>
<text transform="translate(266.69 1211.70) scale(1.0728 1)" font-size="26.30">Pulse number</text>
<text transform="translate(23.00 932.33) rotate(-90) scale(0.9923 1)" font-size="26.30">Δ<tspan font-style="italic">E</tspan> (eV)</text>
<text transform="translate(-0.37 661.80) scale(1.0898 1)" font-size="38.00" fill="#000" stroke="#000" stroke-width="1.3" stroke-linejoin="round"><tspan font-weight="bold">c</tspan></text>
<rect x="917.05" y="16.05" width="2.00" height="493.75" fill="#787878"/>
<rect x="1532.00" y="16.05" width="2.00" height="493.75" fill="#787878"/>
<rect x="917.05" y="16.05" width="616.95" height="2.00" fill="#787878"/>
<line x1="918.05" y1="499.50" x2="1533.00" y2="499.50" stroke="#333" stroke-width="1.20"/>
<path d="M918.2 474.1 L925.2 473.3 L930.3 474.1 L934.5 472.9 L939.5 474.8 L946.2 473.4 L952.1 475.1 L958.8 475.8 L963.9 474.1 L967.2 473.8 L972.3 472.3 L976.5 473.6 L981.5 471.6 L985.7 472.1 L988.7 470.3 L995.0 471.8 L997.8 470.8 L1000.8 472.8 L1004.2 469.6 L1006.7 468.4 L1010.4 471.6 L1013.9 470.3 L1016.0 470.8 L1019.3 472.8 L1022.7 469.9 L1025.2 469.2 L1028.6 471.3 L1031.9 469.6 L1034.5 469.7 L1037.8 470.8 L1040.8 468.9 L1044.5 472.1 L1047.1 473.6 L1051.3 472.1 L1056.3 471.4 L1062.2 472.8 L1065.5 469.1 L1068.6 466.7 L1071.4 467.2 L1074.8 466.7 L1078.2 469.2 L1080.7 469.7 L1084.0 466.4 L1086.6 467.1 L1089.6 466.6 L1092.9 461.2 L1095.8 462.7 L1099.2 465.4 L1102.5 461.5 L1105.4 459.5 L1108.4 459.3 L1111.8 461.0 L1114.6 462.7 L1117.6 461.0 L1120.5 458.7 L1124.0 448.3 L1125.5 440.5 L1126.9 430.0 L1130.1 395.7 L1133.0 359.0 L1135.5 310.0 L1137.2 261.2 L1139.1 212.2 L1141.1 150.3 L1143.2 101.5 L1145.2 62.4 L1148.4 37.9 L1151.7 57.5 L1154.1 93.3 L1156.3 134.0 L1158.2 174.8 L1159.8 219.9 L1160.7 248.9 L1162.4 293.0 L1164.1 337.0 L1166.1 376.1 L1168.0 408.0 L1170.0 427.5 L1172.9 438.1 L1176.2 439.2 L1179.4 438.3 L1182.6 438.5 L1185.2 437.5 L1188.4 434.0 L1191.7 434.0 L1194.9 431.0 L1197.8 426.9 L1201.1 429.7 L1204.0 429.1 L1207.2 423.0 L1209.8 422.0 L1213.0 420.8 L1216.2 417.6 L1219.5 416.9 L1222.7 414.0 L1225.3 412.0 L1228.5 413.3 L1231.4 407.8 L1234.6 404.6 L1237.8 408.8 L1240.8 404.6 L1244.0 400.4 L1246.9 399.7 L1250.1 395.5 L1253.1 394.8 L1256.3 397.5 L1259.5 396.9 L1262.8 395.9 L1266.0 395.0 L1269.2 393.9 L1271.8 394.3 L1274.7 395.6 L1277.6 393.3 L1280.9 393.5 L1283.9 395.6 L1287.1 393.0 L1289.9 394.6 L1293.2 395.9 L1296.4 394.8 L1299.4 401.0 L1302.5 404.3 L1305.4 403.4 L1308.4 406.2 L1311.5 410.1 L1314.8 412.0 L1317.7 409.2 L1321.0 408.1 L1323.9 413.3 L1327.0 418.9 L1330.4 422.1 L1333.2 422.5 L1336.1 424.0 L1339.3 427.5 L1342.3 428.8 L1345.8 431.8 L1348.8 432.8 L1351.6 432.4 L1354.6 437.2 L1357.8 441.8 L1360.0 443.7 L1361.1 444.6 L1364.1 445.9 L1367.4 444.8 L1370.5 445.5 L1373.5 449.2 L1376.4 452.2 L1379.5 451.1 L1382.6 453.9 L1385.8 460.2 L1388.8 461.6 L1391.9 461.6 L1394.9 463.8 L1398.2 466.2 L1400.9 466.2 L1404.0 464.5 L1406.9 466.6 L1410.3 469.2 L1413.2 466.0 L1416.3 466.9 L1419.6 471.6 L1422.7 472.7 L1425.6 472.3 L1429.0 472.7 L1432.1 472.9 L1435.0 470.9 L1438.4 471.3 L1441.4 472.9 L1444.4 473.3 L1447.5 472.9 L1450.4 472.3 L1453.5 474.3 L1456.4 474.4 L1459.8 474.0 L1462.8 475.6 L1465.8 474.9 L1468.7 473.2 L1471.8 474.0 L1474.9 474.9 L1477.8 473.6 L1481.2 474.3 L1487.2 474.3 L1493.2 475.2 L1496.2 473.6 L1499.2 473.2 L1502.3 474.3 L1505.3 475.2 L1508.6 476.5 L1511.7 475.6 L1514.6 475.3 L1518.0 475.2 L1520.9 474.5 L1524.0 474.3 L1527.1 474.7 L1530.0 474.5 L1533.0 474.0" fill="none" stroke="#1f77b4" stroke-width="2.4" stroke-linejoin="round" stroke-linecap="butt"/>
<text transform="translate(0 538.60) scale(1.1000 1)" font-size="23.70"><tspan x="817.17" dy="-1.50" font-size="17.54" stroke="#000" stroke-width="0.35">–</tspan><tspan x="826.29 838.55" dy="1.50">15</tspan></text>
<line x1="994.92" y1="499.50" x2="994.92" y2="509.80" stroke="#2a2a2a" stroke-width="1.15"/>
<text transform="translate(0 538.60) scale(1.1000 1)" font-size="23.70"><tspan x="887.01" dy="-1.50" font-size="17.54" stroke="#000" stroke-width="0.35">–</tspan><tspan x="896.13 908.41" dy="1.50">10</tspan></text>
<line x1="1071.79" y1="499.50" x2="1071.79" y2="509.80" stroke="#2a2a2a" stroke-width="1.15"/>
<text transform="translate(0 538.60) scale(1.1000 1)" font-size="23.70"><tspan x="962.63" dy="-1.50" font-size="17.54" stroke="#000" stroke-width="0.35">–</tspan><tspan x="972.61" dy="1.50">5</tspan></text>
<line x1="1148.66" y1="499.50" x2="1148.66" y2="509.80" stroke="#2a2a2a" stroke-width="1.15"/>
<text transform="translate(0 538.60) scale(1.1000 1)" font-size="23.70"><tspan x="1037.01">0</tspan></text>
<line x1="1225.53" y1="499.50" x2="1225.53" y2="509.80" stroke="#2a2a2a" stroke-width="1.15"/>
<text transform="translate(0 538.60) scale(1.1000 1)" font-size="23.70"><tspan x="1106.91">5</tspan></text>
<line x1="1302.39" y1="499.50" x2="1302.39" y2="509.80" stroke="#2a2a2a" stroke-width="1.15"/>
<text transform="translate(0 538.60) scale(1.1000 1)" font-size="23.70"><tspan x="1170.19 1182.47">10</tspan></text>
<line x1="1379.26" y1="499.50" x2="1379.26" y2="509.80" stroke="#2a2a2a" stroke-width="1.15"/>
<text transform="translate(0 538.60) scale(1.1000 1)" font-size="23.70"><tspan x="1240.11 1252.37">15</tspan></text>
<line x1="1456.13" y1="499.50" x2="1456.13" y2="509.80" stroke="#2a2a2a" stroke-width="1.15"/>
<text transform="translate(0 538.60) scale(1.1000 1)" font-size="23.70"><tspan x="1309.51 1323.28">20</tspan></text>
<text transform="translate(0 538.60) scale(1.1000 1)" font-size="23.70"><tspan x="1379.71 1392.91">25</tspan></text>
<line x1="907.45" y1="477.30" x2="918.05" y2="477.30" stroke="#2a2a2a" stroke-width="1.15"/>
<text transform="translate(0 485.60) scale(1.1000 1)" font-size="23.70"><tspan x="801.56">0</tspan></text>
<line x1="907.45" y1="398.96" x2="918.05" y2="398.96" stroke="#2a2a2a" stroke-width="1.15"/>
<text transform="translate(0 407.26) scale(1.1000 1)" font-size="23.70"><tspan x="783.60 796.72 801.83">0.2</tspan></text>
<line x1="907.45" y1="320.62" x2="918.05" y2="320.62" stroke="#2a2a2a" stroke-width="1.15"/>
<text transform="translate(0 328.92) scale(1.1000 1)" font-size="23.70"><tspan x="782.44 795.55 801.33">0.4</tspan></text>
<line x1="907.45" y1="242.28" x2="918.05" y2="242.28" stroke="#2a2a2a" stroke-width="1.15"/>
<text transform="translate(0 250.58) scale(1.1000 1)" font-size="23.70"><tspan x="783.12 796.24 801.68">0.6</tspan></text>
<line x1="907.45" y1="163.94" x2="918.05" y2="163.94" stroke="#2a2a2a" stroke-width="1.15"/>
<text transform="translate(0 172.24) scale(1.1000 1)" font-size="23.70"><tspan x="783.03 796.15 801.67">0.8</tspan></text>
<line x1="907.45" y1="85.60" x2="918.05" y2="85.60" stroke="#2a2a2a" stroke-width="1.15"/>
<text transform="translate(0 93.90) scale(1.1000 1)" font-size="23.70"><tspan x="784.73 795.77 801.56">1.0</tspan></text>
<text transform="translate(1150.48 582.75) scale(1.0090 1)" font-size="26.30"><tspan font-style="italic">E</tspan><tspan font-size="18.94" dy="8.60">ph</tspan><tspan dy="-8.60"> </tspan><tspan font-size="21.04" dy="-2.20" stroke="#000" stroke-width="0.3">–</tspan><tspan dy="2.20"> </tspan><tspan font-style="italic">E</tspan><tspan font-size="18.94" dy="8.60">c</tspan><tspan dy="-8.60"> (eV)</tspan></text>
<text transform="translate(823.60 396.82) rotate(-90) scale(1.0196 1)" font-size="26.30"><tspan letter-spacing="0.62">Spec. density</tspan><tspan letter-spacing="-0.55"> (µJ eV</tspan><tspan font-size="13.68" dy="-14.60" letter-spacing="-0.50" stroke="#000" stroke-width="0.3">–</tspan><tspan font-size="18.41" dy="1.60" letter-spacing="-0.50">1</tspan><tspan dy="13.00">)</tspan></text>
<text transform="translate(799.86 32.80) scale(1.1124 1)" font-size="38.00" fill="#000" stroke="#000" stroke-width="1.3" stroke-linejoin="round"><tspan font-weight="bold">b</tspan></text>
<rect x="917.05" y="644.90" width="2.00" height="493.80" fill="#787878"/>
<rect x="1532.00" y="644.90" width="2.00" height="493.80" fill="#787878"/>
<rect x="917.05" y="644.90" width="616.95" height="2.00" fill="#787878"/>
<line x1="918.05" y1="1128.40" x2="1533.00" y2="1128.40" stroke="#333" stroke-width="1.20"/>
<path d="M918.0 1106.9 L938.8 1106.9 L958.2 1106.7 L977.6 1105.9 L997.0 1106.1 L1016.3 1106.5 L1026.0 1106.9 L1039.6 1106.1 L1049.3 1105.3 L1064.8 1104.6 L1074.5 1104.0 L1084.2 1103.4 L1093.9 1103.0 L1103.6 1102.4 L1113.3 1102.4 L1124.9 1102.6 L1134.6 1101.1 L1144.3 1097.8 L1154.0 1096.2 L1163.7 1094.5 L1167.6 1094.3 L1170.0 1093.9 L1174.1 1092.5 L1179.2 1091.9 L1184.3 1089.5 L1189.4 1087.8 L1193.4 1085.8 L1196.9 1082.1 L1200.2 1075.6 L1203.0 1066.4 L1205.7 1053.2 L1208.3 1032.8 L1210.7 1008.4 L1213.2 981.9 L1215.8 949.3 L1218.5 922.8 L1220.9 912.6 L1223.4 908.5 L1226.0 907.9 L1228.7 910.0 L1231.1 926.9 L1233.6 955.4 L1236.2 985.9 L1238.7 1014.5 L1241.3 1043.0 L1243.8 1063.4 L1246.4 1075.6 L1249.1 1082.3 L1252.1 1085.4 L1256.6 1086.4 L1261.7 1087.8 L1266.8 1087.0 L1273.9 1086.4 L1280.0 1087.4 L1290.0 1087.2 L1292.6 1087.3 L1297.4 1088.5 L1302.3 1088.1 L1309.1 1089.4 L1314.9 1090.4 L1320.7 1091.0 L1324.6 1091.4 L1330.4 1092.7 L1338.1 1093.5 L1345.9 1094.9 L1353.7 1095.7 L1363.3 1097.6 L1371.1 1099.5 L1380.8 1100.7 L1390.5 1101.7 L1402.1 1102.6 L1413.8 1103.8 L1425.4 1104.6 L1440.9 1105.2 L1454.5 1105.5 L1470.0 1105.7 L1489.4 1105.9 L1508.8 1106.3 L1533.0 1106.3" fill="none" stroke="#1f77b4" stroke-width="2.4" stroke-linejoin="round" stroke-linecap="butt"/>
<path d="M918.0 1103.4 L922.3 1104.4 L927.1 1105.2 L932.0 1105.0 L936.8 1104.6 L940.7 1104.4 L945.6 1102.1 L949.4 1102.4 L953.3 1103.4 L958.2 1102.4 L963.0 1102.4 L966.9 1102.1 L971.7 1103.6 L975.6 1103.4 L979.5 1101.1 L982.4 1101.7 L985.3 1104.0 L988.2 1102.4 L992.1 1103.0 L995.0 1103.6 L999.9 1102.4 L1004.7 1102.4 L1008.6 1102.4 L1013.4 1102.6 L1018.3 1105.0 L1023.1 1104.6 L1028.0 1105.0 L1031.9 1105.2 L1035.7 1104.4 L1040.6 1104.6 L1044.5 1103.6 L1049.3 1103.4 L1054.2 1102.8 L1059.0 1103.0 L1064.8 1102.6 L1069.7 1103.2 L1074.5 1103.0 L1078.4 1102.1 L1084.2 1104.4 L1089.1 1102.1 L1093.9 1101.9 L1098.8 1103.0 L1103.6 1103.6 L1108.5 1102.1 L1112.3 1102.4 L1117.2 1104.0 L1123.0 1104.6 L1128.8 1105.7 L1134.6 1105.0 L1140.4 1103.6 L1146.3 1104.0 L1152.1 1103.4 L1156.9 1103.6 L1161.8 1102.4 L1167.6 1102.2 L1173.4 1101.9 L1174.1 1101.1 L1177.1 1100.5 L1182.2 1102.7 L1188.3 1102.7 L1193.4 1101.7 L1197.5 1099.0 L1201.0 1093.9 L1203.6 1084.8 L1206.3 1069.5 L1208.7 1047.1 L1210.7 1018.5 L1212.8 981.9 L1214.8 930.9 L1217.3 880.0 L1218.9 806.4 L1221.2 738.0 L1223.4 698.9 L1225.3 667.6 L1228.6 674.4 L1230.6 718.4 L1232.5 767.3 L1234.5 816.1 L1235.6 880.0 L1237.2 920.7 L1239.3 967.6 L1241.3 1010.4 L1243.8 1049.1 L1245.8 1071.5 L1247.8 1085.8 L1249.9 1092.9 L1253.5 1097.0 L1257.6 1099.0 L1262.7 1100.0 L1267.8 1101.5 L1271.9 1100.7 L1274.9 1099.2 L1278.0 1100.0 L1281.0 1102.1 L1286.1 1101.1 L1286.8 1101.3 L1292.6 1101.7 L1299.4 1102.2 L1304.2 1101.3 L1308.7 1099.5 L1313.9 1100.7 L1319.7 1101.7 L1324.6 1102.4 L1332.3 1102.2 L1337.2 1100.3 L1342.0 1102.6 L1344.9 1103.0 L1350.7 1100.3 L1355.6 1101.7 L1360.4 1102.1 L1364.3 1100.9 L1370.1 1103.6 L1375.0 1101.5 L1379.2 1103.4 L1383.7 1102.1 L1388.6 1104.0 L1394.4 1102.1 L1399.2 1102.4 L1403.7 1098.9 L1407.0 1100.7 L1410.9 1103.0 L1415.7 1102.8 L1421.5 1102.1 L1428.3 1101.7 L1434.1 1103.2 L1439.0 1101.1 L1443.8 1101.9 L1448.7 1100.7 L1453.5 1102.6 L1459.3 1102.1 L1464.2 1102.4 L1471.9 1100.9 L1477.8 1103.0 L1483.6 1103.6 L1489.4 1104.6 L1495.2 1103.4 L1501.0 1104.0 L1507.8 1102.4 L1514.6 1101.1 L1520.0 1103.6 L1526.2 1101.5 L1533.0 1103.4" fill="none" stroke="#ff7f0e" stroke-width="2.4" stroke-linejoin="round" stroke-linecap="butt"/>
<text transform="translate(0 1167.50) scale(1.1000 1)" font-size="23.70"><tspan x="816.07" dy="-1.50" font-size="17.54" stroke="#000" stroke-width="0.35">–</tspan><tspan x="825.81 839.58" dy="1.50">20</tspan></text>
<line x1="994.92" y1="1128.40" x2="994.92" y2="1138.70" stroke="#2a2a2a" stroke-width="1.15"/>
<text transform="translate(0 1167.50) scale(1.1000 1)" font-size="23.70"><tspan x="887.05" dy="-1.50" font-size="17.54" stroke="#000" stroke-width="0.35">–</tspan><tspan x="896.18 908.43" dy="1.50">15</tspan></text>
<line x1="1071.79" y1="1128.40" x2="1071.79" y2="1138.70" stroke="#2a2a2a" stroke-width="1.15"/>
<text transform="translate(0 1167.50) scale(1.1000 1)" font-size="23.70"><tspan x="956.89" dy="-1.50" font-size="17.54" stroke="#000" stroke-width="0.35">–</tspan><tspan x="966.01 978.29" dy="1.50">10</tspan></text>
<line x1="1148.66" y1="1128.40" x2="1148.66" y2="1138.70" stroke="#2a2a2a" stroke-width="1.15"/>
<text transform="translate(0 1167.50) scale(1.1000 1)" font-size="23.70"><tspan x="1032.51" dy="-1.50" font-size="17.54" stroke="#000" stroke-width="0.35">–</tspan><tspan x="1042.49" dy="1.50">5</tspan></text>
<line x1="1225.53" y1="1128.40" x2="1225.53" y2="1138.70" stroke="#2a2a2a" stroke-width="1.15"/>
<text transform="translate(0 1167.50) scale(1.1000 1)" font-size="23.70"><tspan x="1106.89">0</tspan></text>
<line x1="1302.39" y1="1128.40" x2="1302.39" y2="1138.70" stroke="#2a2a2a" stroke-width="1.15"/>
<text transform="translate(0 1167.50) scale(1.1000 1)" font-size="23.70"><tspan x="1176.79">5</tspan></text>
<line x1="1379.26" y1="1128.40" x2="1379.26" y2="1138.70" stroke="#2a2a2a" stroke-width="1.15"/>
<text transform="translate(0 1167.50) scale(1.1000 1)" font-size="23.70"><tspan x="1240.07 1252.35">10</tspan></text>
<line x1="1456.13" y1="1128.40" x2="1456.13" y2="1138.70" stroke="#2a2a2a" stroke-width="1.15"/>
<text transform="translate(0 1167.50) scale(1.1000 1)" font-size="23.70"><tspan x="1310.00 1322.25">15</tspan></text>
<text transform="translate(0 1167.50) scale(1.1000 1)" font-size="23.70"><tspan x="1379.39 1393.16">20</tspan></text>
<line x1="907.45" y1="1106.50" x2="918.05" y2="1106.50" stroke="#2a2a2a" stroke-width="1.15"/>
<text transform="translate(0 1114.80) scale(1.1000 1)" font-size="23.70"><tspan x="801.56">0</tspan></text>
<line x1="907.45" y1="1034.60" x2="918.05" y2="1034.60" stroke="#2a2a2a" stroke-width="1.15"/>
<text transform="translate(0 1042.90) scale(1.1000 1)" font-size="23.70"><tspan x="774.83 787.11 801.56">100</tspan></text>
<line x1="907.45" y1="962.70" x2="918.05" y2="962.70" stroke="#2a2a2a" stroke-width="1.15"/>
<text transform="translate(0 971.00) scale(1.1000 1)" font-size="23.70"><tspan x="773.34 787.11 801.56">200</tspan></text>
<line x1="907.45" y1="890.80" x2="918.05" y2="890.80" stroke="#2a2a2a" stroke-width="1.15"/>
<text transform="translate(0 899.10) scale(1.1000 1)" font-size="23.70"><tspan x="773.31 787.11 801.56">300</tspan></text>
<line x1="907.45" y1="818.90" x2="918.05" y2="818.90" stroke="#2a2a2a" stroke-width="1.15"/>
<text transform="translate(0 827.20) scale(1.1000 1)" font-size="23.70"><tspan x="772.82 787.11 801.56">400</tspan></text>
<line x1="907.45" y1="747.00" x2="918.05" y2="747.00" stroke="#2a2a2a" stroke-width="1.15"/>
<text transform="translate(0 755.30) scale(1.1000 1)" font-size="23.70"><tspan x="773.27 787.11 801.56">500</tspan></text>
<line x1="907.45" y1="675.10" x2="918.05" y2="675.10" stroke="#2a2a2a" stroke-width="1.15"/>
<text transform="translate(0 683.40) scale(1.1000 1)" font-size="23.70"><tspan x="772.85 787.11 801.56">600</tspan></text>
<text transform="translate(1150.48 1211.60) scale(1.0090 1)" font-size="26.30"><tspan font-style="italic">E</tspan><tspan font-size="18.94" dy="8.60">ph</tspan><tspan dy="-8.60"> </tspan><tspan font-size="21.04" dy="-2.20" stroke="#000" stroke-width="0.3">–</tspan><tspan dy="2.20"> </tspan><tspan font-style="italic">E</tspan><tspan font-size="18.94" dy="8.60">c</tspan><tspan dy="-8.60"> (eV)</tspan></text>
<text transform="translate(823.60 1025.67) rotate(-90) scale(1.0196 1)" font-size="26.30"><tspan letter-spacing="0.62">Spec. density</tspan><tspan letter-spacing="-0.55"> (µJ eV</tspan><tspan font-size="13.68" dy="-14.60" letter-spacing="-0.50" stroke="#000" stroke-width="0.3">–</tspan><tspan font-size="18.41" dy="1.60" letter-spacing="-0.50">1</tspan><tspan dy="13.00">)</tspan></text>
<text transform="translate(799.52 661.60) scale(1.1750 1)" font-size="38.00" fill="#000" stroke="#000" stroke-width="1.3" stroke-linejoin="round"><tspan font-weight="bold">d</tspan></text>
<line x1="951.10" y1="677.90" x2="977.10" y2="677.90" stroke="#1f77b4" stroke-width="2.20"/>
<line x1="951.10" y1="713.60" x2="977.10" y2="713.60" stroke="#ff7f0e" stroke-width="2.20"/>
<text transform="translate(988.50 685.80) scale(0.8418 1)" font-size="23.60"><tspan font-style="italic">C</tspan><tspan font-size="14.63" dy="8.20">1</tspan></text>
<text transform="translate(988.40 721.70) scale(0.9213 1)" font-size="23.60"><tspan font-style="italic">C</tspan><tspan font-size="14.63" dy="8.20">1</tspan><tspan dy="-8.20"> + </tspan><tspan font-style="italic">C</tspan><tspan font-size="14.63" dy="8.20">2</tspan></text>
</svg>
</body></html>
